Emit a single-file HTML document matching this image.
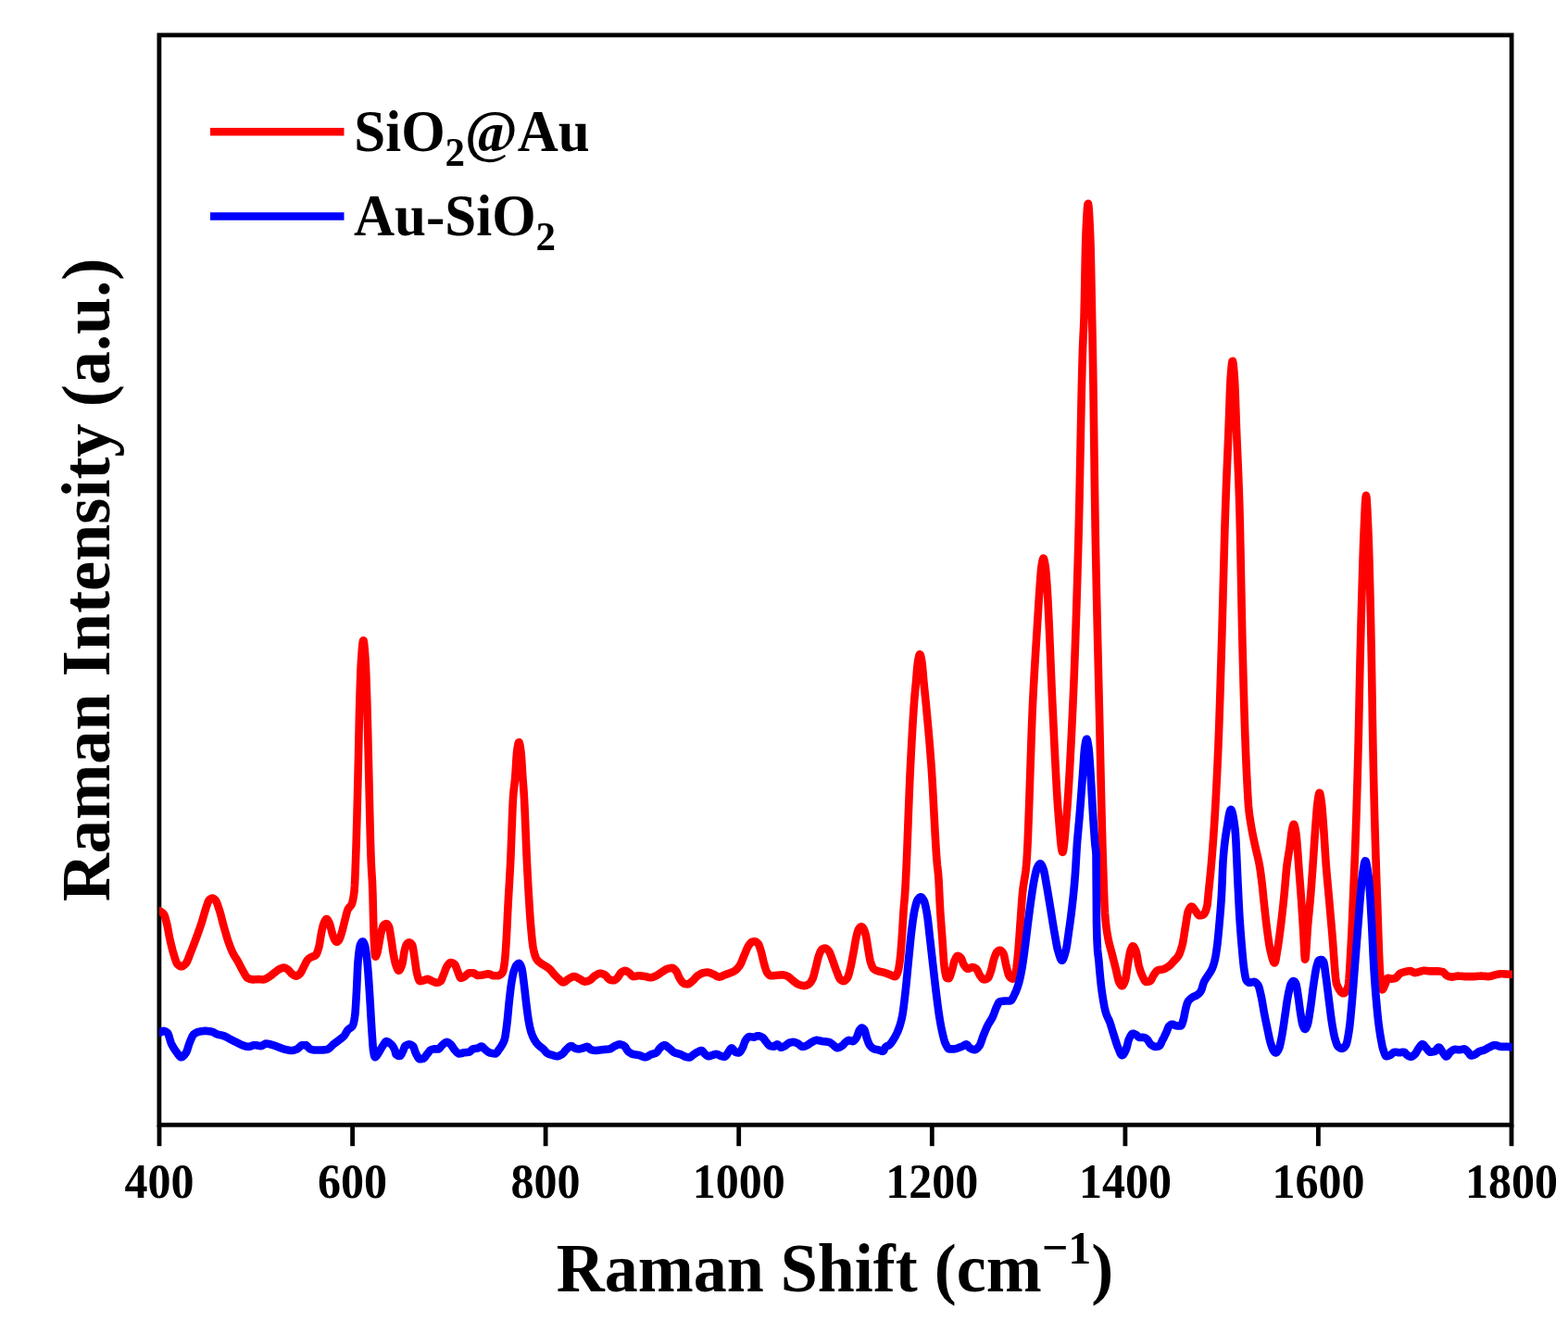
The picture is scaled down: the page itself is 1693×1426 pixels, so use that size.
<!DOCTYPE html>
<html lang="en">
<head>
<meta charset="utf-8">
<title>Raman spectra</title>
<style>
  html, body { margin: 0; padding: 0; background: #ffffff; }
  body { width: 1693px; height: 1426px; overflow: hidden; }
  svg { display: block; }
  text { font-family: "Liberation Serif", "DejaVu Serif", serif; font-weight: bold; fill: #000; }
  .tick { font-size: 50px; text-anchor: middle; }
  .axis { font-size: 72px; text-anchor: middle; }
  .yaxis { font-size: 72.3px; text-anchor: middle; }
  .leg { font-size: 61px; }
</style>
</head>
<body>
<svg width="1693" height="1426" viewBox="0 0 1693 1426">
  <defs>
    <clipPath id="plot"><rect x="172" y="38" width="1461" height="1176"/></clipPath>
  </defs>
  <rect x="0" y="0" width="1693" height="1426" fill="#ffffff"/>
  <!-- frame -->
  <rect x="171.9" y="37.9" width="1460.2" height="1176.4" fill="none" stroke="#000" stroke-width="4.8"/>
  <!-- ticks -->
  <g stroke="#000" stroke-width="4.8" fill="none">
    <line x1="172" y1="1214.3" x2="172" y2="1237.2"/>
    <line x1="380.6" y1="1214.3" x2="380.6" y2="1237.2"/>
    <line x1="589.1" y1="1214.3" x2="589.1" y2="1237.2"/>
    <line x1="797.7" y1="1214.3" x2="797.7" y2="1237.2"/>
    <line x1="1006.3" y1="1214.3" x2="1006.3" y2="1237.2"/>
    <line x1="1214.9" y1="1214.3" x2="1214.9" y2="1237.2"/>
    <line x1="1423.4" y1="1214.3" x2="1423.4" y2="1237.2"/>
    <line x1="1632" y1="1214.3" x2="1632" y2="1237.2"/>
  </g>
  <!-- curves -->
  <g clip-path="url(#plot)" fill="none" stroke-linejoin="round" stroke-linecap="butt" stroke-width="8.6">
    <path stroke="#ff0000" d="M170.0,982.6 L170.5,982.7 L171.0,982.9 L171.5,983.1 L172.0,983.3 L172.5,983.5 L173.0,983.8 L173.5,984.0 L174.0,984.3 L174.5,984.6 L175.0,985.0 L175.5,985.4 L176.0,985.8 L176.5,986.4 L177.0,987.0 L177.5,988.1 L178.0,989.4 L178.5,991.0 L179.0,992.8 L179.5,994.7 L180.0,996.6 L180.5,998.7 L181.0,1001.2 L181.5,1003.8 L182.0,1006.6 L182.5,1009.3 L183.0,1011.9 L183.5,1014.2 L184.0,1016.4 L184.5,1018.5 L185.0,1020.6 L185.5,1022.7 L186.0,1024.6 L186.5,1026.5 L187.0,1028.3 L187.5,1029.9 L188.0,1031.5 L188.5,1033.2 L189.0,1034.8 L189.5,1036.3 L190.0,1037.7 L190.5,1039.0 L191.0,1040.0 L191.5,1040.7 L192.0,1041.2 L192.5,1041.6 L193.0,1042.1 L193.5,1042.4 L194.0,1042.7 L194.5,1043.0 L195.0,1043.2 L195.5,1043.3 L196.0,1043.3 L196.5,1043.2 L197.0,1043.0 L197.5,1042.8 L198.0,1042.5 L198.5,1042.1 L199.0,1041.7 L199.5,1041.2 L200.0,1040.7 L200.5,1040.2 L201.0,1039.7 L201.5,1038.9 L202.0,1038.0 L202.5,1036.9 L203.0,1035.7 L203.5,1034.4 L204.0,1033.1 L204.5,1031.7 L205.0,1030.4 L205.5,1029.0 L206.0,1027.8 L206.5,1026.6 L207.0,1025.3 L207.5,1024.1 L208.0,1022.8 L208.5,1021.5 L209.0,1020.2 L209.5,1018.9 L210.0,1017.6 L210.5,1016.3 L211.0,1014.9 L211.5,1013.6 L212.0,1012.2 L212.5,1010.9 L213.0,1009.5 L213.5,1008.1 L214.0,1006.7 L214.5,1005.4 L215.0,1003.9 L215.5,1002.5 L216.0,1001.1 L216.5,999.6 L217.0,998.1 L217.5,996.6 L218.0,995.0 L218.5,993.4 L219.0,991.7 L219.5,989.9 L220.0,988.2 L220.5,986.4 L221.0,984.7 L221.5,983.1 L222.0,981.5 L222.5,980.0 L223.0,978.5 L223.5,977.0 L224.0,975.5 L224.5,974.1 L225.0,972.9 L225.5,972.0 L226.0,971.4 L226.5,970.9 L227.0,970.5 L227.5,970.2 L228.0,969.9 L228.5,969.7 L229.0,969.6 L229.5,969.6 L230.0,969.8 L230.5,970.0 L231.0,970.3 L231.5,970.7 L232.0,971.1 L232.5,971.6 L233.0,972.2 L233.5,973.1 L234.0,974.2 L234.5,975.4 L235.0,976.8 L235.5,978.3 L236.0,979.8 L236.5,981.3 L237.0,982.8 L237.5,984.5 L238.0,986.2 L238.5,988.1 L239.0,990.0 L239.5,992.0 L240.0,994.0 L240.5,995.9 L241.0,997.8 L241.5,999.6 L242.0,1001.4 L242.5,1003.2 L243.0,1004.9 L243.5,1006.6 L244.0,1008.4 L244.5,1010.0 L245.0,1011.7 L245.5,1013.3 L246.0,1014.8 L246.5,1016.3 L247.0,1017.7 L247.5,1019.1 L248.0,1020.5 L248.5,1021.8 L249.0,1023.1 L249.5,1024.4 L250.0,1025.6 L250.5,1026.8 L251.0,1027.9 L251.5,1028.9 L252.0,1029.9 L252.5,1030.8 L253.0,1031.6 L253.5,1032.5 L254.0,1033.2 L254.5,1034.0 L255.0,1034.8 L255.5,1035.6 L256.0,1036.4 L256.5,1037.2 L257.0,1038.1 L257.5,1039.0 L258.0,1040.0 L258.5,1041.0 L259.0,1041.9 L259.5,1042.9 L260.0,1043.9 L260.5,1044.9 L261.0,1045.8 L261.5,1046.7 L262.0,1047.6 L262.5,1048.5 L263.0,1049.3 L263.5,1050.3 L264.0,1051.2 L264.5,1052.1 L265.0,1053.0 L265.5,1053.8 L266.0,1054.5 L266.5,1055.1 L267.0,1055.6 L267.5,1055.8 L268.0,1056.1 L268.5,1056.3 L269.0,1056.5 L269.5,1056.7 L270.0,1056.8 L270.5,1057.0 L271.0,1057.1 L271.5,1057.2 L272.0,1057.3 L272.5,1057.4 L273.0,1057.4 L273.5,1057.4 L274.0,1057.4 L274.5,1057.4 L275.0,1057.3 L275.5,1057.3 L276.0,1057.2 L276.5,1057.2 L277.0,1057.2 L277.5,1057.1 L278.0,1057.1 L278.5,1057.1 L279.0,1057.1 L279.5,1057.1 L280.0,1057.2 L280.5,1057.2 L281.0,1057.2 L281.5,1057.3 L282.0,1057.3 L282.5,1057.3 L283.0,1057.4 L283.5,1057.4 L284.0,1057.4 L284.5,1057.4 L285.0,1057.3 L285.5,1057.2 L286.0,1057.0 L286.5,1056.8 L287.0,1056.5 L287.5,1056.3 L288.0,1056.0 L288.5,1055.7 L289.0,1055.4 L289.5,1055.1 L290.0,1054.8 L290.5,1054.6 L291.0,1054.2 L291.5,1053.9 L292.0,1053.5 L292.5,1053.1 L293.0,1052.8 L293.5,1052.4 L294.0,1051.9 L294.5,1051.5 L295.0,1051.1 L295.5,1050.7 L296.0,1050.3 L296.5,1050.0 L297.0,1049.6 L297.5,1049.2 L298.0,1048.8 L298.5,1048.4 L299.0,1048.0 L299.5,1047.6 L300.0,1047.2 L300.5,1046.9 L301.0,1046.5 L301.5,1046.2 L302.0,1046.0 L302.5,1045.8 L303.0,1045.6 L303.5,1045.4 L304.0,1045.2 L304.5,1045.0 L305.0,1044.8 L305.5,1044.7 L306.0,1044.6 L306.5,1044.6 L307.0,1044.6 L307.5,1044.7 L308.0,1044.9 L308.5,1045.2 L309.0,1045.5 L309.5,1045.8 L310.0,1046.1 L310.5,1046.5 L311.0,1046.8 L311.5,1047.2 L312.0,1047.7 L312.5,1048.3 L313.0,1048.9 L313.5,1049.5 L314.0,1050.0 L314.5,1050.6 L315.0,1051.1 L315.5,1051.5 L316.0,1051.8 L316.5,1052.1 L317.0,1052.5 L317.5,1052.8 L318.0,1053.0 L318.5,1053.3 L319.0,1053.5 L319.5,1053.6 L320.0,1053.6 L320.5,1053.5 L321.0,1053.3 L321.5,1053.1 L322.0,1052.7 L322.5,1052.3 L323.0,1051.9 L323.5,1051.4 L324.0,1050.9 L324.5,1050.3 L325.0,1049.6 L325.5,1048.7 L326.0,1047.8 L326.5,1046.7 L327.0,1045.7 L327.5,1044.7 L328.0,1043.7 L328.5,1042.7 L329.0,1041.8 L329.5,1040.7 L330.0,1039.7 L330.5,1038.7 L331.0,1037.8 L331.5,1037.0 L332.0,1036.3 L332.5,1035.7 L333.0,1035.2 L333.5,1034.8 L334.0,1034.4 L334.5,1034.1 L335.0,1033.8 L335.5,1033.5 L336.0,1033.2 L336.5,1033.0 L337.0,1032.7 L337.5,1032.5 L338.0,1032.4 L338.5,1032.2 L339.0,1032.1 L339.5,1031.9 L340.0,1031.7 L340.5,1031.4 L341.0,1031.0 L341.5,1030.3 L342.0,1029.4 L342.5,1028.2 L343.0,1026.8 L343.5,1025.2 L344.0,1023.6 L344.5,1021.7 L345.0,1019.2 L345.5,1016.2 L346.0,1013.0 L346.5,1009.8 L347.0,1007.0 L347.5,1004.6 L348.0,1002.4 L348.5,1000.3 L349.0,998.3 L349.5,996.8 L350.0,995.6 L350.5,994.6 L351.0,993.7 L351.5,992.9 L352.0,992.3 L352.5,992.0 L353.0,992.1 L353.5,992.5 L354.0,993.2 L354.5,994.1 L355.0,995.1 L355.5,996.2 L356.0,997.3 L356.5,998.9 L357.0,1000.8 L357.5,1002.8 L358.0,1004.9 L358.5,1006.8 L359.0,1008.5 L359.5,1009.9 L360.0,1011.3 L360.5,1012.6 L361.0,1013.8 L361.5,1014.8 L362.0,1015.5 L362.5,1016.1 L363.0,1016.6 L363.5,1016.8 L364.0,1016.7 L364.5,1016.4 L365.0,1016.0 L365.5,1015.4 L366.0,1014.8 L366.5,1013.9 L367.0,1012.7 L367.5,1011.3 L368.0,1009.8 L368.5,1008.2 L369.0,1006.6 L369.5,1004.9 L370.0,1003.0 L370.5,1001.0 L371.0,998.9 L371.5,996.9 L372.0,994.8 L372.5,992.9 L373.0,991.0 L373.5,988.9 L374.0,986.9 L374.5,985.1 L375.0,983.4 L375.5,982.0 L376.0,981.0 L376.5,980.3 L377.0,979.7 L377.5,979.1 L378.0,978.6 L378.5,978.1 L379.0,977.4 L379.5,976.6 L380.0,975.6 L380.5,973.9 L381.0,971.7 L381.5,969.0 L382.0,966.0 L382.5,962.1 L383.0,955.3 L383.5,943.8 L384.0,930.0 L384.5,915.0 L385.0,898.0 L385.5,879.4 L386.0,859.5 L386.5,838.7 L387.0,817.4 L387.5,792.5 L388.0,768.4 L388.5,751.1 L389.0,735.8 L389.5,722.9 L390.0,713.0 L390.5,706.0 L391.0,699.7 L391.5,694.6 L392.0,691.6 L392.5,691.3 L393.0,693.8 L393.5,698.6 L394.0,704.7 L394.5,711.4 L395.0,721.0 L395.5,733.7 L396.0,748.6 L396.5,764.6 L397.0,783.4 L397.5,804.9 L398.0,825.5 L398.5,846.8 L399.0,868.6 L399.5,889.6 L400.0,908.7 L400.5,924.7 L401.0,936.4 L401.5,944.6 L402.0,953.1 L402.5,966.8 L403.0,989.1 L403.5,1005.6 L404.0,1018.0 L404.5,1026.3 L405.0,1032.1 L405.5,1032.7 L406.0,1032.0 L406.5,1030.9 L407.0,1029.6 L407.5,1027.8 L408.0,1025.3 L408.5,1022.6 L409.0,1019.9 L409.5,1017.2 L410.0,1014.3 L410.5,1011.5 L411.0,1008.8 L411.5,1006.6 L412.0,1004.7 L412.5,1002.8 L413.0,1001.2 L413.5,999.9 L414.0,999.1 L414.5,998.6 L415.0,998.1 L415.5,997.7 L416.0,997.4 L416.5,997.2 L417.0,997.1 L417.5,997.2 L418.0,997.5 L418.5,998.0 L419.0,998.7 L419.5,999.5 L420.0,1000.5 L420.5,1002.3 L421.0,1005.0 L421.5,1008.2 L422.0,1011.5 L422.5,1014.5 L423.0,1017.9 L423.5,1021.5 L424.0,1025.0 L424.5,1028.3 L425.0,1031.1 L425.5,1033.7 L426.0,1036.2 L426.5,1038.5 L427.0,1040.4 L427.5,1042.0 L428.0,1043.3 L428.5,1044.6 L429.0,1045.8 L429.5,1046.7 L430.0,1047.4 L430.5,1047.7 L431.0,1047.6 L431.5,1047.1 L432.0,1046.4 L432.5,1045.4 L433.0,1044.3 L433.5,1043.0 L434.0,1041.6 L434.5,1039.9 L435.0,1037.1 L435.5,1033.8 L436.0,1030.4 L436.5,1027.5 L437.0,1025.4 L437.5,1023.5 L438.0,1021.8 L438.5,1020.4 L439.0,1019.4 L439.5,1018.8 L440.0,1018.3 L440.5,1017.9 L441.0,1017.6 L441.5,1017.4 L442.0,1017.4 L442.5,1017.6 L443.0,1017.8 L443.5,1018.2 L444.0,1018.7 L444.5,1019.3 L445.0,1019.9 L445.5,1021.3 L446.0,1023.7 L446.5,1026.8 L447.0,1030.1 L447.5,1033.3 L448.0,1036.6 L448.5,1040.3 L449.0,1044.0 L449.5,1047.4 L450.0,1049.9 L450.5,1051.9 L451.0,1053.9 L451.5,1055.7 L452.0,1057.2 L452.5,1058.3 L453.0,1059.0 L453.5,1059.1 L454.0,1059.1 L454.5,1059.0 L455.0,1058.9 L455.5,1058.8 L456.0,1058.7 L456.5,1058.6 L457.0,1058.4 L457.5,1058.3 L458.0,1058.1 L458.5,1058.0 L459.0,1057.7 L459.5,1057.5 L460.0,1057.3 L460.5,1057.1 L461.0,1057.0 L461.5,1056.9 L462.0,1056.9 L462.5,1057.0 L463.0,1057.2 L463.5,1057.4 L464.0,1057.7 L464.5,1058.0 L465.0,1058.3 L465.5,1058.6 L466.0,1058.8 L466.5,1059.1 L467.0,1059.3 L467.5,1059.5 L468.0,1059.7 L468.5,1059.9 L469.0,1060.1 L469.5,1060.3 L470.0,1060.5 L470.5,1060.7 L471.0,1060.8 L471.5,1060.8 L472.0,1060.8 L472.5,1060.7 L473.0,1060.6 L473.5,1060.4 L474.0,1060.2 L474.5,1059.9 L475.0,1059.6 L475.5,1059.3 L476.0,1058.9 L476.5,1058.2 L477.0,1057.2 L477.5,1055.9 L478.0,1054.5 L478.5,1053.1 L479.0,1051.8 L479.5,1050.6 L480.0,1049.3 L480.5,1047.9 L481.0,1046.5 L481.5,1045.3 L482.0,1044.2 L482.5,1043.3 L483.0,1042.6 L483.5,1041.8 L484.0,1041.1 L484.5,1040.5 L485.0,1040.0 L485.5,1039.5 L486.0,1039.2 L486.5,1039.1 L487.0,1039.1 L487.5,1039.2 L488.0,1039.3 L488.5,1039.5 L489.0,1039.7 L489.5,1040.0 L490.0,1040.3 L490.5,1040.6 L491.0,1041.0 L491.5,1041.7 L492.0,1042.8 L492.5,1044.1 L493.0,1045.4 L493.5,1046.8 L494.0,1048.1 L494.5,1049.3 L495.0,1050.7 L495.5,1052.2 L496.0,1053.5 L496.5,1054.7 L497.0,1055.5 L497.5,1055.8 L498.0,1055.8 L498.5,1055.6 L499.0,1055.5 L499.5,1055.2 L500.0,1055.0 L500.5,1054.7 L501.0,1054.4 L501.5,1054.2 L502.0,1053.9 L502.5,1053.5 L503.0,1053.0 L503.5,1052.5 L504.0,1052.0 L504.5,1051.6 L505.0,1051.1 L505.5,1050.8 L506.0,1050.5 L506.5,1050.4 L507.0,1050.4 L507.5,1050.4 L508.0,1050.3 L508.5,1050.3 L509.0,1050.3 L509.5,1050.3 L510.0,1050.3 L510.5,1050.3 L511.0,1050.3 L511.5,1050.4 L512.0,1050.7 L512.5,1051.0 L513.0,1051.4 L513.5,1051.8 L514.0,1052.1 L514.5,1052.5 L515.0,1052.7 L515.5,1052.9 L516.0,1052.9 L516.5,1052.9 L517.0,1052.9 L517.5,1052.8 L518.0,1052.8 L518.5,1052.8 L519.0,1052.7 L519.5,1052.7 L520.0,1052.6 L520.5,1052.5 L521.0,1052.5 L521.5,1052.4 L522.0,1052.3 L522.5,1052.3 L523.0,1052.1 L523.5,1052.0 L524.0,1051.9 L524.5,1051.8 L525.0,1051.6 L525.5,1051.5 L526.0,1051.4 L526.5,1051.4 L527.0,1051.3 L527.5,1051.3 L528.0,1051.4 L528.5,1051.5 L529.0,1051.7 L529.5,1051.9 L530.0,1052.1 L530.5,1052.4 L531.0,1052.6 L531.5,1052.9 L532.0,1053.1 L532.5,1053.2 L533.0,1053.3 L533.5,1053.3 L534.0,1053.3 L534.5,1053.3 L535.0,1053.3 L535.5,1053.3 L536.0,1053.3 L536.5,1053.3 L537.0,1053.3 L537.5,1053.3 L538.0,1053.2 L538.5,1053.1 L539.0,1052.9 L539.5,1052.6 L540.0,1052.3 L540.5,1052.0 L541.0,1051.6 L541.5,1051.2 L542.0,1050.6 L542.5,1049.8 L543.0,1048.9 L543.5,1047.2 L544.0,1044.6 L544.5,1041.3 L545.0,1037.5 L545.5,1032.3 L546.0,1025.7 L546.5,1018.1 L547.0,1009.8 L547.5,999.5 L548.0,988.3 L548.5,978.1 L549.0,969.0 L549.5,960.4 L550.0,952.0 L550.5,943.3 L551.0,934.0 L551.5,923.4 L552.0,910.7 L552.5,897.0 L553.0,883.4 L553.5,871.1 L554.0,861.4 L554.5,855.0 L555.0,850.5 L555.5,846.5 L556.0,842.0 L556.5,835.6 L557.0,827.4 L557.5,819.2 L558.0,812.7 L558.5,808.9 L559.0,805.6 L559.5,803.0 L560.0,801.4 L560.5,801.2 L561.0,802.6 L561.5,805.0 L562.0,808.2 L562.5,811.8 L563.0,817.4 L563.5,825.0 L564.0,833.2 L564.5,840.9 L565.0,847.4 L565.5,853.9 L566.0,862.0 L566.5,872.2 L567.0,884.0 L567.5,896.6 L568.0,909.3 L568.5,921.3 L569.0,932.0 L569.5,941.8 L570.0,951.1 L570.5,959.9 L571.0,968.3 L571.5,976.5 L572.0,984.4 L572.5,991.5 L573.0,997.8 L573.5,1003.6 L574.0,1009.2 L574.5,1014.3 L575.0,1018.7 L575.5,1022.2 L576.0,1024.8 L576.5,1027.1 L577.0,1029.1 L577.5,1030.9 L578.0,1032.5 L578.5,1033.7 L579.0,1034.7 L579.5,1035.5 L580.0,1036.2 L580.5,1036.8 L581.0,1037.4 L581.5,1037.8 L582.0,1038.3 L582.5,1038.7 L583.0,1039.1 L583.5,1039.5 L584.0,1039.8 L584.5,1040.2 L585.0,1040.5 L585.5,1040.8 L586.0,1041.1 L586.5,1041.4 L587.0,1041.7 L587.5,1042.0 L588.0,1042.3 L588.5,1042.6 L589.0,1042.9 L589.5,1043.2 L590.0,1043.5 L590.5,1043.8 L591.0,1044.2 L591.5,1044.5 L592.0,1044.9 L592.5,1045.2 L593.0,1045.6 L593.5,1046.1 L594.0,1046.6 L594.5,1047.1 L595.0,1047.7 L595.5,1048.3 L596.0,1048.9 L596.5,1049.6 L597.0,1050.2 L597.5,1050.8 L598.0,1051.4 L598.5,1051.9 L599.0,1052.5 L599.5,1053.0 L600.0,1053.5 L600.5,1054.0 L601.0,1054.5 L601.5,1055.0 L602.0,1055.5 L602.5,1056.0 L603.0,1056.4 L603.5,1056.9 L604.0,1057.3 L604.5,1057.9 L605.0,1058.4 L605.5,1058.9 L606.0,1059.3 L606.5,1059.7 L607.0,1060.0 L607.5,1060.3 L608.0,1060.4 L608.5,1060.4 L609.0,1060.3 L609.5,1060.0 L610.0,1059.8 L610.5,1059.4 L611.0,1059.0 L611.5,1058.6 L612.0,1058.2 L612.5,1057.7 L613.0,1057.3 L613.5,1057.0 L614.0,1056.7 L614.5,1056.4 L615.0,1056.1 L615.5,1055.8 L616.0,1055.5 L616.5,1055.2 L617.0,1055.0 L617.5,1054.7 L618.0,1054.5 L618.5,1054.3 L619.0,1054.2 L619.5,1054.1 L620.0,1054.1 L620.5,1054.1 L621.0,1054.3 L621.5,1054.4 L622.0,1054.6 L622.5,1054.9 L623.0,1055.1 L623.5,1055.4 L624.0,1055.7 L624.5,1056.0 L625.0,1056.2 L625.5,1056.5 L626.0,1056.8 L626.5,1057.0 L627.0,1057.4 L627.5,1057.7 L628.0,1058.0 L628.5,1058.4 L629.0,1058.7 L629.5,1059.0 L630.0,1059.2 L630.5,1059.4 L631.0,1059.6 L631.5,1059.6 L632.0,1059.6 L632.5,1059.5 L633.0,1059.4 L633.5,1059.3 L634.0,1059.2 L634.5,1059.0 L635.0,1058.9 L635.5,1058.7 L636.0,1058.5 L636.5,1058.3 L637.0,1058.1 L637.5,1057.7 L638.0,1057.3 L638.5,1056.9 L639.0,1056.4 L639.5,1055.9 L640.0,1055.4 L640.5,1054.9 L641.0,1054.4 L641.5,1053.9 L642.0,1053.6 L642.5,1053.2 L643.0,1052.9 L643.5,1052.7 L644.0,1052.4 L644.5,1052.1 L645.0,1051.8 L645.5,1051.5 L646.0,1051.3 L646.5,1051.1 L647.0,1051.0 L647.5,1050.9 L648.0,1050.8 L648.5,1050.8 L649.0,1050.9 L649.5,1050.9 L650.0,1051.1 L650.5,1051.2 L651.0,1051.4 L651.5,1051.6 L652.0,1051.8 L652.5,1052.1 L653.0,1052.3 L653.5,1052.6 L654.0,1053.0 L654.5,1053.5 L655.0,1054.1 L655.5,1054.7 L656.0,1055.4 L656.5,1056.0 L657.0,1056.5 L657.5,1057.0 L658.0,1057.3 L658.5,1057.5 L659.0,1057.7 L659.5,1057.8 L660.0,1058.0 L660.5,1058.1 L661.0,1058.2 L661.5,1058.2 L662.0,1058.3 L662.5,1058.3 L663.0,1058.2 L663.5,1058.0 L664.0,1057.8 L664.5,1057.4 L665.0,1057.1 L665.5,1056.7 L666.0,1056.2 L666.5,1055.8 L667.0,1055.3 L667.5,1054.6 L668.0,1053.8 L668.5,1052.9 L669.0,1052.1 L669.5,1051.3 L670.0,1050.6 L670.5,1050.1 L671.0,1049.7 L671.5,1049.3 L672.0,1049.0 L672.5,1048.7 L673.0,1048.4 L673.5,1048.2 L674.0,1048.0 L674.5,1047.9 L675.0,1047.9 L675.5,1048.0 L676.0,1048.1 L676.5,1048.3 L677.0,1048.6 L677.5,1048.9 L678.0,1049.3 L678.5,1049.6 L679.0,1049.9 L679.5,1050.3 L680.0,1050.7 L680.5,1051.3 L681.0,1051.8 L681.5,1052.4 L682.0,1052.9 L682.5,1053.4 L683.0,1053.8 L683.5,1054.0 L684.0,1054.1 L684.5,1054.1 L685.0,1054.0 L685.5,1054.0 L686.0,1053.9 L686.5,1053.8 L687.0,1053.7 L687.5,1053.6 L688.0,1053.5 L688.5,1053.4 L689.0,1053.3 L689.5,1053.3 L690.0,1053.3 L690.5,1053.3 L691.0,1053.3 L691.5,1053.4 L692.0,1053.4 L692.5,1053.5 L693.0,1053.5 L693.5,1053.6 L694.0,1053.7 L694.5,1053.8 L695.0,1053.8 L695.5,1053.9 L696.0,1054.0 L696.5,1054.1 L697.0,1054.1 L697.5,1054.3 L698.0,1054.4 L698.5,1054.5 L699.0,1054.6 L699.5,1054.8 L700.0,1054.9 L700.5,1055.0 L701.0,1055.1 L701.5,1055.2 L702.0,1055.3 L702.5,1055.3 L703.0,1055.3 L703.5,1055.2 L704.0,1055.1 L704.5,1055.0 L705.0,1054.8 L705.5,1054.6 L706.0,1054.4 L706.5,1054.1 L707.0,1053.9 L707.5,1053.7 L708.0,1053.4 L708.5,1053.2 L709.0,1053.0 L709.5,1052.7 L710.0,1052.4 L710.5,1052.1 L711.0,1051.8 L711.5,1051.4 L712.0,1051.1 L712.5,1050.7 L713.0,1050.4 L713.5,1050.1 L714.0,1049.7 L714.5,1049.4 L715.0,1049.1 L715.5,1048.8 L716.0,1048.5 L716.5,1048.1 L717.0,1047.8 L717.5,1047.5 L718.0,1047.2 L718.5,1046.8 L719.0,1046.6 L719.5,1046.3 L720.0,1046.1 L720.5,1045.9 L721.0,1045.7 L721.5,1045.6 L722.0,1045.5 L722.5,1045.4 L723.0,1045.2 L723.5,1045.1 L724.0,1045.1 L724.5,1045.0 L725.0,1044.9 L725.5,1044.9 L726.0,1044.9 L726.5,1045.0 L727.0,1045.3 L727.5,1045.6 L728.0,1046.1 L728.5,1046.6 L729.0,1047.1 L729.5,1047.7 L730.0,1048.3 L730.5,1049.0 L731.0,1049.9 L731.5,1051.0 L732.0,1052.2 L732.5,1053.3 L733.0,1054.5 L733.5,1055.5 L734.0,1056.4 L734.5,1057.2 L735.0,1058.0 L735.5,1058.7 L736.0,1059.4 L736.5,1060.1 L737.0,1060.7 L737.5,1061.1 L738.0,1061.5 L738.5,1061.7 L739.0,1061.8 L739.5,1062.0 L740.0,1062.1 L740.5,1062.2 L741.0,1062.3 L741.5,1062.3 L742.0,1062.4 L742.5,1062.4 L743.0,1062.3 L743.5,1062.2 L744.0,1061.9 L744.5,1061.6 L745.0,1061.2 L745.5,1060.8 L746.0,1060.4 L746.5,1059.9 L747.0,1059.5 L747.5,1059.1 L748.0,1058.7 L748.5,1058.2 L749.0,1057.7 L749.5,1057.1 L750.0,1056.6 L750.5,1056.0 L751.0,1055.4 L751.5,1054.9 L752.0,1054.4 L752.5,1053.9 L753.0,1053.5 L753.5,1053.2 L754.0,1052.8 L754.5,1052.5 L755.0,1052.2 L755.5,1051.9 L756.0,1051.6 L756.5,1051.3 L757.0,1051.1 L757.5,1050.8 L758.0,1050.6 L758.5,1050.5 L759.0,1050.3 L759.5,1050.2 L760.0,1050.1 L760.5,1050.0 L761.0,1049.9 L761.5,1049.8 L762.0,1049.8 L762.5,1049.7 L763.0,1049.6 L763.5,1049.6 L764.0,1049.6 L764.5,1049.6 L765.0,1049.7 L765.5,1049.8 L766.0,1049.9 L766.5,1050.1 L767.0,1050.3 L767.5,1050.5 L768.0,1050.7 L768.5,1051.0 L769.0,1051.2 L769.5,1051.4 L770.0,1051.6 L770.5,1051.8 L771.0,1052.1 L771.5,1052.3 L772.0,1052.6 L772.5,1052.9 L773.0,1053.2 L773.5,1053.5 L774.0,1053.8 L774.5,1054.1 L775.0,1054.3 L775.5,1054.4 L776.0,1054.5 L776.5,1054.6 L777.0,1054.6 L777.5,1054.5 L778.0,1054.4 L778.5,1054.2 L779.0,1054.0 L779.5,1053.8 L780.0,1053.5 L780.5,1053.3 L781.0,1053.0 L781.5,1052.8 L782.0,1052.6 L782.5,1052.4 L783.0,1052.2 L783.5,1052.0 L784.0,1051.8 L784.5,1051.7 L785.0,1051.5 L785.5,1051.3 L786.0,1051.2 L786.5,1051.0 L787.0,1050.8 L787.5,1050.6 L788.0,1050.4 L788.5,1050.2 L789.0,1050.0 L789.5,1049.8 L790.0,1049.6 L790.5,1049.4 L791.0,1049.2 L791.5,1048.9 L792.0,1048.7 L792.5,1048.4 L793.0,1048.1 L793.5,1047.8 L794.0,1047.5 L794.5,1047.1 L795.0,1046.7 L795.5,1046.2 L796.0,1045.7 L796.5,1045.1 L797.0,1044.5 L797.5,1043.9 L798.0,1043.2 L798.5,1042.5 L799.0,1041.8 L799.5,1040.9 L800.0,1040.0 L800.5,1038.9 L801.0,1037.7 L801.5,1036.4 L802.0,1035.2 L802.5,1033.9 L803.0,1032.6 L803.5,1031.3 L804.0,1030.1 L804.5,1029.0 L805.0,1027.8 L805.5,1026.6 L806.0,1025.4 L806.5,1024.2 L807.0,1023.1 L807.5,1022.1 L808.0,1021.2 L808.5,1020.5 L809.0,1019.8 L809.5,1019.1 L810.0,1018.5 L810.5,1017.9 L811.0,1017.4 L811.5,1017.0 L812.0,1016.7 L812.5,1016.6 L813.0,1016.5 L813.5,1016.4 L814.0,1016.3 L814.5,1016.3 L815.0,1016.3 L815.5,1016.4 L816.0,1016.6 L816.5,1016.8 L817.0,1017.2 L817.5,1017.6 L818.0,1018.0 L818.5,1018.5 L819.0,1019.3 L819.5,1020.4 L820.0,1021.7 L820.5,1023.2 L821.0,1024.7 L821.5,1026.3 L822.0,1028.0 L822.5,1029.9 L823.0,1032.0 L823.5,1034.2 L824.0,1036.4 L824.5,1038.4 L825.0,1040.2 L825.5,1042.0 L826.0,1043.8 L826.5,1045.5 L827.0,1047.0 L827.5,1048.4 L828.0,1049.4 L828.5,1050.2 L829.0,1050.8 L829.5,1051.4 L830.0,1051.9 L830.5,1052.4 L831.0,1052.8 L831.5,1053.1 L832.0,1053.3 L832.5,1053.3 L833.0,1053.3 L833.5,1053.3 L834.0,1053.2 L834.5,1053.2 L835.0,1053.2 L835.5,1053.1 L836.0,1053.1 L836.5,1053.0 L837.0,1053.0 L837.5,1053.0 L838.0,1052.9 L838.5,1052.9 L839.0,1052.8 L839.5,1052.8 L840.0,1052.7 L840.5,1052.7 L841.0,1052.6 L841.5,1052.6 L842.0,1052.5 L842.5,1052.5 L843.0,1052.5 L843.5,1052.4 L844.0,1052.4 L844.5,1052.4 L845.0,1052.4 L845.5,1052.4 L846.0,1052.5 L846.5,1052.6 L847.0,1052.7 L847.5,1052.8 L848.0,1052.9 L848.5,1053.1 L849.0,1053.3 L849.5,1053.5 L850.0,1053.6 L850.5,1053.9 L851.0,1054.2 L851.5,1054.5 L852.0,1054.9 L852.5,1055.3 L853.0,1055.8 L853.5,1056.2 L854.0,1056.7 L854.5,1057.1 L855.0,1057.5 L855.5,1057.9 L856.0,1058.3 L856.5,1058.7 L857.0,1059.1 L857.5,1059.6 L858.0,1060.0 L858.5,1060.4 L859.0,1060.8 L859.5,1061.2 L860.0,1061.5 L860.5,1061.9 L861.0,1062.1 L861.5,1062.4 L862.0,1062.6 L862.5,1062.7 L863.0,1062.9 L863.5,1063.1 L864.0,1063.3 L864.5,1063.4 L865.0,1063.6 L865.5,1063.7 L866.0,1063.8 L866.5,1063.9 L867.0,1064.0 L867.5,1064.1 L868.0,1064.1 L868.5,1064.1 L869.0,1064.0 L869.5,1064.0 L870.0,1063.8 L870.5,1063.7 L871.0,1063.5 L871.5,1063.3 L872.0,1063.0 L872.5,1062.8 L873.0,1062.5 L873.5,1062.2 L874.0,1061.8 L874.5,1061.3 L875.0,1060.7 L875.5,1060.0 L876.0,1059.2 L876.5,1058.3 L877.0,1057.4 L877.5,1056.4 L878.0,1055.1 L878.5,1053.5 L879.0,1051.6 L879.5,1049.7 L880.0,1047.6 L880.5,1045.7 L881.0,1043.7 L881.5,1041.7 L882.0,1039.5 L882.5,1037.4 L883.0,1035.3 L883.5,1033.5 L884.0,1031.9 L884.5,1030.5 L885.0,1029.2 L885.5,1028.0 L886.0,1026.9 L886.5,1026.0 L887.0,1025.3 L887.5,1024.8 L888.0,1024.5 L888.5,1024.2 L889.0,1024.0 L889.5,1023.8 L890.0,1023.7 L890.5,1023.6 L891.0,1023.6 L891.5,1023.7 L892.0,1024.0 L892.5,1024.3 L893.0,1024.7 L893.5,1025.1 L894.0,1025.6 L894.5,1026.2 L895.0,1026.7 L895.5,1027.5 L896.0,1028.5 L896.5,1029.6 L897.0,1031.0 L897.5,1032.4 L898.0,1033.8 L898.5,1035.2 L899.0,1036.6 L899.5,1037.9 L900.0,1039.3 L900.5,1040.8 L901.0,1042.2 L901.5,1043.7 L902.0,1045.1 L902.5,1046.5 L903.0,1047.8 L903.5,1049.0 L904.0,1050.3 L904.5,1051.7 L905.0,1053.0 L905.5,1054.2 L906.0,1055.3 L906.5,1056.2 L907.0,1057.0 L907.5,1057.5 L908.0,1057.9 L908.5,1058.2 L909.0,1058.6 L909.5,1058.8 L910.0,1059.0 L910.5,1059.1 L911.0,1059.1 L911.5,1058.9 L912.0,1058.7 L912.5,1058.4 L913.0,1058.0 L913.5,1057.5 L914.0,1056.9 L914.5,1056.3 L915.0,1055.7 L915.5,1054.7 L916.0,1053.3 L916.5,1051.6 L917.0,1049.8 L917.5,1047.7 L918.0,1045.7 L918.5,1043.7 L919.0,1041.4 L919.5,1038.9 L920.0,1036.3 L920.5,1033.6 L921.0,1030.9 L921.5,1028.3 L922.0,1025.6 L922.5,1022.7 L923.0,1019.7 L923.5,1016.8 L924.0,1014.1 L924.5,1011.7 L925.0,1009.6 L925.5,1007.7 L926.0,1006.0 L926.5,1004.4 L927.0,1003.2 L927.5,1002.4 L928.0,1001.7 L928.5,1001.1 L929.0,1000.7 L929.5,1000.4 L930.0,1000.3 L930.5,1000.5 L931.0,1000.8 L931.5,1001.3 L932.0,1002.0 L932.5,1002.6 L933.0,1003.6 L933.5,1005.0 L934.0,1006.6 L934.5,1008.4 L935.0,1010.4 L935.5,1012.9 L936.0,1016.0 L936.5,1019.2 L937.0,1022.5 L937.5,1025.5 L938.0,1028.4 L938.5,1031.5 L939.0,1034.3 L939.5,1036.8 L940.0,1038.6 L940.5,1040.2 L941.0,1041.6 L941.5,1042.9 L942.0,1044.0 L942.5,1044.9 L943.0,1045.6 L943.5,1046.0 L944.0,1046.4 L944.5,1046.7 L945.0,1047.0 L945.5,1047.3 L946.0,1047.5 L946.5,1047.7 L947.0,1047.9 L947.5,1048.1 L948.0,1048.2 L948.5,1048.4 L949.0,1048.5 L949.5,1048.7 L950.0,1048.8 L950.5,1048.9 L951.0,1049.0 L951.5,1049.1 L952.0,1049.2 L952.5,1049.3 L953.0,1049.4 L953.5,1049.6 L954.0,1049.7 L954.5,1049.8 L955.0,1050.0 L955.5,1050.1 L956.0,1050.3 L956.5,1050.5 L957.0,1050.7 L957.5,1050.8 L958.0,1051.0 L958.5,1051.2 L959.0,1051.4 L959.5,1051.6 L960.0,1051.8 L960.5,1052.0 L961.0,1052.2 L961.5,1052.4 L962.0,1052.6 L962.5,1052.8 L963.0,1053.0 L963.5,1053.3 L964.0,1053.5 L964.5,1053.7 L965.0,1053.8 L965.5,1054.0 L966.0,1054.1 L966.5,1054.1 L967.0,1053.9 L967.5,1053.4 L968.0,1052.5 L968.5,1051.5 L969.0,1050.4 L969.5,1049.0 L970.0,1047.1 L970.5,1044.5 L971.0,1041.5 L971.5,1038.1 L972.0,1034.1 L972.5,1028.8 L973.0,1022.7 L973.5,1016.0 L974.0,1009.0 L974.5,1000.9 L975.0,992.3 L975.5,984.3 L976.0,977.5 L976.5,972.1 L977.0,966.3 L977.5,958.6 L978.0,949.2 L978.5,938.5 L979.0,926.8 L979.5,914.3 L980.0,901.2 L980.5,888.0 L981.0,874.7 L981.5,861.8 L982.0,849.4 L982.5,837.8 L983.0,827.4 L983.5,817.7 L984.0,808.1 L984.5,798.9 L985.0,789.9 L985.5,781.4 L986.0,773.3 L986.5,765.7 L987.0,758.7 L987.5,752.4 L988.0,746.8 L988.5,741.4 L989.0,736.1 L989.5,730.3 L990.0,724.2 L990.5,718.7 L991.0,714.6 L991.5,711.8 L992.0,709.3 L992.5,707.4 L993.0,706.3 L993.5,706.4 L994.0,707.7 L994.5,709.8 L995.0,712.4 L995.5,715.3 L996.0,719.9 L996.5,725.6 L997.0,731.7 L997.5,737.1 L998.0,742.0 L998.5,746.8 L999.0,751.6 L999.5,756.6 L1000.0,761.9 L1000.5,767.1 L1001.0,772.5 L1001.5,777.8 L1002.0,783.3 L1002.5,788.9 L1003.0,794.6 L1003.5,800.5 L1004.0,806.5 L1004.5,812.8 L1005.0,819.3 L1005.5,826.0 L1006.0,833.2 L1006.5,841.3 L1007.0,850.0 L1007.5,859.1 L1008.0,868.6 L1008.5,878.3 L1009.0,887.8 L1009.5,897.2 L1010.0,906.1 L1010.5,914.5 L1011.0,922.1 L1011.5,928.8 L1012.0,934.2 L1012.5,938.5 L1013.0,943.2 L1013.5,949.7 L1014.0,959.4 L1014.5,970.3 L1015.0,980.0 L1015.5,987.7 L1016.0,994.8 L1016.5,1001.4 L1017.0,1007.9 L1017.5,1014.7 L1018.0,1022.3 L1018.5,1030.1 L1019.0,1037.2 L1019.5,1042.5 L1020.0,1046.1 L1020.5,1049.3 L1021.0,1052.1 L1021.5,1054.2 L1022.0,1055.5 L1022.5,1055.9 L1023.0,1056.0 L1023.5,1056.1 L1024.0,1056.2 L1024.5,1056.2 L1025.0,1055.7 L1025.5,1054.7 L1026.0,1053.4 L1026.5,1051.8 L1027.0,1050.2 L1027.5,1048.6 L1028.0,1046.9 L1028.5,1045.0 L1029.0,1042.9 L1029.5,1040.8 L1030.0,1038.9 L1030.5,1037.3 L1031.0,1036.2 L1031.5,1035.2 L1032.0,1034.2 L1032.5,1033.3 L1033.0,1032.6 L1033.5,1032.1 L1034.0,1031.9 L1034.5,1031.9 L1035.0,1032.1 L1035.5,1032.4 L1036.0,1032.7 L1036.5,1033.1 L1037.0,1033.6 L1037.5,1034.1 L1038.0,1034.8 L1038.5,1035.9 L1039.0,1037.3 L1039.5,1038.7 L1040.0,1040.0 L1040.5,1041.1 L1041.0,1041.9 L1041.5,1042.6 L1042.0,1043.3 L1042.5,1044.0 L1043.0,1044.6 L1043.5,1045.1 L1044.0,1045.5 L1044.5,1045.7 L1045.0,1045.8 L1045.5,1045.8 L1046.0,1045.6 L1046.5,1045.4 L1047.0,1045.2 L1047.5,1044.9 L1048.0,1044.7 L1048.5,1044.4 L1049.0,1044.3 L1049.5,1044.1 L1050.0,1044.1 L1050.5,1044.1 L1051.0,1044.2 L1051.5,1044.4 L1052.0,1044.6 L1052.5,1044.8 L1053.0,1045.1 L1053.5,1045.4 L1054.0,1045.7 L1054.5,1046.2 L1055.0,1046.9 L1055.5,1047.8 L1056.0,1048.8 L1056.5,1049.9 L1057.0,1051.0 L1057.5,1052.0 L1058.0,1052.9 L1058.5,1053.6 L1059.0,1054.2 L1059.5,1054.9 L1060.0,1055.6 L1060.5,1056.2 L1061.0,1056.7 L1061.5,1057.1 L1062.0,1057.3 L1062.5,1057.4 L1063.0,1057.4 L1063.5,1057.3 L1064.0,1057.1 L1064.5,1057.0 L1065.0,1056.7 L1065.5,1056.5 L1066.0,1056.2 L1066.5,1055.9 L1067.0,1055.4 L1067.5,1054.6 L1068.0,1053.6 L1068.5,1052.3 L1069.0,1050.9 L1069.5,1049.5 L1070.0,1048.0 L1070.5,1046.3 L1071.0,1044.2 L1071.5,1042.0 L1072.0,1039.8 L1072.5,1037.7 L1073.0,1035.8 L1073.5,1034.3 L1074.0,1032.9 L1074.5,1031.5 L1075.0,1030.2 L1075.5,1029.1 L1076.0,1028.1 L1076.5,1027.5 L1077.0,1027.1 L1077.5,1026.7 L1078.0,1026.3 L1078.5,1026.1 L1079.0,1025.9 L1079.5,1025.8 L1080.0,1025.8 L1080.5,1026.0 L1081.0,1026.4 L1081.5,1026.8 L1082.0,1027.3 L1082.5,1028.0 L1083.0,1028.7 L1083.5,1029.5 L1084.0,1031.0 L1084.5,1033.1 L1085.0,1035.5 L1085.5,1038.2 L1086.0,1040.7 L1086.5,1042.9 L1087.0,1044.8 L1087.5,1046.8 L1088.0,1048.8 L1088.5,1050.6 L1089.0,1052.2 L1089.5,1053.4 L1090.0,1054.2 L1090.5,1054.8 L1091.0,1055.3 L1091.5,1055.8 L1092.0,1056.2 L1092.5,1056.4 L1093.0,1056.6 L1093.5,1056.6 L1094.0,1056.2 L1094.5,1055.5 L1095.0,1054.5 L1095.5,1053.3 L1096.0,1051.8 L1096.5,1050.2 L1097.0,1048.1 L1097.5,1044.8 L1098.0,1040.7 L1098.5,1035.9 L1099.0,1030.9 L1099.5,1025.5 L1100.0,1019.1 L1100.5,1012.2 L1101.0,1005.0 L1101.5,997.9 L1102.0,991.1 L1102.5,983.9 L1103.0,976.7 L1103.5,970.0 L1104.0,964.3 L1104.5,959.7 L1105.0,956.0 L1105.5,952.8 L1106.0,949.8 L1106.5,946.9 L1107.0,943.7 L1107.5,940.0 L1108.0,935.5 L1108.5,929.7 L1109.0,921.9 L1109.5,912.0 L1110.0,900.5 L1110.5,887.7 L1111.0,873.8 L1111.5,859.2 L1112.0,844.1 L1112.5,828.9 L1113.0,813.8 L1113.5,799.1 L1114.0,785.2 L1114.5,772.4 L1115.0,760.9 L1115.5,750.8 L1116.0,741.3 L1116.5,732.2 L1117.0,723.4 L1117.5,715.0 L1118.0,706.8 L1118.5,698.8 L1119.0,690.8 L1119.5,682.8 L1120.0,674.8 L1120.5,666.7 L1121.0,658.5 L1121.5,650.4 L1122.0,642.7 L1122.5,635.6 L1123.0,628.5 L1123.5,621.6 L1124.0,615.7 L1124.5,611.5 L1125.0,608.4 L1125.5,605.6 L1126.0,603.6 L1126.5,602.6 L1127.0,603.1 L1127.5,604.7 L1128.0,607.2 L1128.5,610.2 L1129.0,613.7 L1129.5,618.9 L1130.0,625.3 L1130.5,632.5 L1131.0,640.2 L1131.5,649.3 L1132.0,659.4 L1132.5,670.0 L1133.0,681.0 L1133.5,692.6 L1134.0,704.8 L1134.5,717.1 L1135.0,729.3 L1135.5,741.2 L1136.0,752.4 L1136.5,763.0 L1137.0,773.5 L1137.5,784.1 L1138.0,794.6 L1138.5,805.0 L1139.0,815.3 L1139.5,825.2 L1140.0,834.9 L1140.5,844.1 L1141.0,852.9 L1141.5,861.2 L1142.0,868.8 L1142.5,875.8 L1143.0,882.0 L1143.5,888.0 L1144.0,894.1 L1144.5,900.0 L1145.0,905.7 L1145.5,910.7 L1146.0,914.9 L1146.5,918.0 L1147.0,919.7 L1147.5,919.9 L1148.0,918.3 L1148.5,915.3 L1149.0,911.1 L1149.5,906.0 L1150.0,900.3 L1150.5,894.2 L1151.0,888.0 L1151.5,882.0 L1152.0,875.9 L1152.5,869.4 L1153.0,862.3 L1153.5,854.8 L1154.0,846.9 L1154.5,838.5 L1155.0,829.8 L1155.5,820.7 L1156.0,811.2 L1156.5,801.3 L1157.0,791.2 L1157.5,780.7 L1158.0,770.0 L1158.5,758.9 L1159.0,747.5 L1159.5,735.4 L1160.0,722.6 L1160.5,709.1 L1161.0,694.9 L1161.5,680.2 L1162.0,664.8 L1162.5,648.9 L1163.0,632.4 L1163.5,615.4 L1164.0,597.9 L1164.5,580.0 L1165.0,560.1 L1165.5,537.3 L1166.0,512.6 L1166.5,486.9 L1167.0,461.2 L1167.5,436.4 L1168.0,413.4 L1168.5,393.2 L1169.0,376.7 L1169.5,364.8 L1170.0,354.9 L1170.5,342.6 L1171.0,321.7 L1171.5,294.3 L1172.0,268.7 L1172.5,252.7 L1173.0,241.7 L1173.5,232.1 L1174.0,224.6 L1174.5,220.3 L1175.0,219.8 L1175.5,223.5 L1176.0,230.4 L1176.5,239.7 L1177.0,250.5 L1177.5,263.8 L1178.0,285.4 L1178.5,311.5 L1179.0,337.7 L1179.5,361.4 L1180.0,388.2 L1180.5,420.4 L1181.0,456.2 L1181.5,493.2 L1182.0,529.3 L1182.5,562.5 L1183.0,590.8 L1183.5,616.4 L1184.0,640.4 L1184.5,663.1 L1185.0,684.8 L1185.5,706.0 L1186.0,727.0 L1186.5,748.1 L1187.0,769.8 L1187.5,792.0 L1188.0,814.4 L1188.5,836.7 L1189.0,858.4 L1189.5,879.3 L1190.0,899.1 L1190.5,917.2 L1191.0,933.4 L1191.5,948.6 L1192.0,963.1 L1192.5,975.8 L1193.0,985.5 L1193.5,991.7 L1194.0,996.8 L1194.5,1001.0 L1195.0,1004.6 L1195.5,1007.8 L1196.0,1010.6 L1196.5,1013.3 L1197.0,1015.8 L1197.5,1018.0 L1198.0,1020.0 L1198.5,1021.9 L1199.0,1023.7 L1199.5,1025.5 L1200.0,1027.3 L1200.5,1029.1 L1201.0,1031.1 L1201.5,1033.1 L1202.0,1035.1 L1202.5,1037.0 L1203.0,1039.0 L1203.5,1041.0 L1204.0,1043.0 L1204.5,1045.0 L1205.0,1047.0 L1205.5,1049.2 L1206.0,1051.5 L1206.5,1053.8 L1207.0,1056.0 L1207.5,1058.0 L1208.0,1059.5 L1208.5,1060.5 L1209.0,1061.5 L1209.5,1062.4 L1210.0,1063.1 L1210.5,1063.8 L1211.0,1064.2 L1211.5,1064.3 L1212.0,1064.1 L1212.5,1063.6 L1213.0,1062.8 L1213.5,1061.8 L1214.0,1060.7 L1214.5,1059.4 L1215.0,1058.0 L1215.5,1055.9 L1216.0,1053.1 L1216.5,1049.8 L1217.0,1046.2 L1217.5,1042.7 L1218.0,1039.4 L1218.5,1036.6 L1219.0,1033.7 L1219.5,1030.9 L1220.0,1028.4 L1220.5,1026.4 L1221.0,1025.0 L1221.5,1023.8 L1222.0,1022.7 L1222.5,1021.9 L1223.0,1021.4 L1223.5,1021.5 L1224.0,1021.8 L1224.5,1022.4 L1225.0,1023.3 L1225.5,1024.3 L1226.0,1025.4 L1226.5,1026.6 L1227.0,1028.3 L1227.5,1030.7 L1228.0,1033.5 L1228.5,1036.6 L1229.0,1039.5 L1229.5,1042.1 L1230.0,1044.0 L1230.5,1045.8 L1231.0,1047.4 L1231.5,1048.9 L1232.0,1050.2 L1232.5,1051.5 L1233.0,1052.7 L1233.5,1053.7 L1234.0,1054.8 L1234.5,1055.9 L1235.0,1056.9 L1235.5,1057.9 L1236.0,1058.7 L1236.5,1059.3 L1237.0,1059.7 L1237.5,1059.9 L1238.0,1059.9 L1238.5,1059.8 L1239.0,1059.8 L1239.5,1059.7 L1240.0,1059.6 L1240.5,1059.5 L1241.0,1059.3 L1241.5,1059.2 L1242.0,1058.9 L1242.5,1058.4 L1243.0,1057.7 L1243.5,1056.8 L1244.0,1055.8 L1244.5,1054.7 L1245.0,1053.7 L1245.5,1052.9 L1246.0,1052.1 L1246.5,1051.4 L1247.0,1050.6 L1247.5,1049.9 L1248.0,1049.2 L1248.5,1048.6 L1249.0,1048.1 L1249.5,1047.7 L1250.0,1047.4 L1250.5,1047.2 L1251.0,1047.1 L1251.5,1047.0 L1252.0,1046.9 L1252.5,1046.9 L1253.0,1046.8 L1253.5,1046.7 L1254.0,1046.7 L1254.5,1046.6 L1255.0,1046.5 L1255.5,1046.4 L1256.0,1046.2 L1256.5,1046.1 L1257.0,1045.9 L1257.5,1045.7 L1258.0,1045.5 L1258.5,1045.2 L1259.0,1044.9 L1259.5,1044.6 L1260.0,1044.3 L1260.5,1044.0 L1261.0,1043.7 L1261.5,1043.4 L1262.0,1043.0 L1262.5,1042.6 L1263.0,1042.2 L1263.5,1041.7 L1264.0,1041.2 L1264.5,1040.7 L1265.0,1040.2 L1265.5,1039.6 L1266.0,1039.1 L1266.5,1038.5 L1267.0,1037.9 L1267.5,1037.4 L1268.0,1036.9 L1268.5,1036.4 L1269.0,1035.9 L1269.5,1035.4 L1270.0,1034.9 L1270.5,1034.3 L1271.0,1033.7 L1271.5,1033.1 L1272.0,1032.4 L1272.5,1031.6 L1273.0,1030.7 L1273.5,1029.6 L1274.0,1028.4 L1274.5,1027.0 L1275.0,1025.5 L1275.5,1023.9 L1276.0,1022.1 L1276.5,1020.3 L1277.0,1018.2 L1277.5,1015.6 L1278.0,1012.6 L1278.5,1009.4 L1279.0,1006.2 L1279.5,1003.0 L1280.0,1000.0 L1280.5,996.9 L1281.0,993.6 L1281.5,990.3 L1282.0,987.3 L1282.5,984.9 L1283.0,983.3 L1283.5,982.3 L1284.0,981.3 L1284.5,980.4 L1285.0,979.7 L1285.5,979.1 L1286.0,978.8 L1286.5,978.6 L1287.0,978.7 L1287.5,979.0 L1288.0,979.5 L1288.5,980.1 L1289.0,980.8 L1289.5,981.5 L1290.0,982.2 L1290.5,982.9 L1291.0,983.5 L1291.5,984.2 L1292.0,985.0 L1292.5,985.8 L1293.0,986.6 L1293.5,987.2 L1294.0,987.8 L1294.5,988.2 L1295.0,988.3 L1295.5,988.3 L1296.0,988.2 L1296.5,988.2 L1297.0,988.1 L1297.5,988.0 L1298.0,987.9 L1298.5,987.7 L1299.0,987.5 L1299.5,987.3 L1300.0,986.8 L1300.5,986.1 L1301.0,985.2 L1301.5,984.1 L1302.0,982.7 L1302.5,981.2 L1303.0,979.4 L1303.5,977.2 L1304.0,972.8 L1304.5,967.2 L1305.0,962.1 L1305.5,957.2 L1306.0,952.4 L1306.5,947.6 L1307.0,942.5 L1307.5,937.3 L1308.0,931.7 L1308.5,925.7 L1309.0,919.5 L1309.5,912.9 L1310.0,906.0 L1310.5,898.8 L1311.0,891.2 L1311.5,883.3 L1312.0,875.0 L1312.5,866.2 L1313.0,857.0 L1313.5,847.4 L1314.0,837.2 L1314.5,826.5 L1315.0,815.3 L1315.5,803.4 L1316.0,790.7 L1316.5,776.7 L1317.0,761.7 L1317.5,746.0 L1318.0,729.7 L1318.5,713.2 L1319.0,696.7 L1319.5,679.4 L1320.0,661.1 L1320.5,642.3 L1321.0,623.3 L1321.5,604.4 L1322.0,586.1 L1322.5,568.7 L1323.0,552.7 L1323.5,538.2 L1324.0,524.9 L1324.5,512.4 L1325.0,500.4 L1325.5,488.7 L1326.0,476.9 L1326.5,464.6 L1327.0,451.1 L1327.5,436.3 L1328.0,422.2 L1328.5,411.1 L1329.0,404.1 L1329.5,398.0 L1330.0,393.0 L1330.5,390.0 L1331.0,389.7 L1331.5,392.3 L1332.0,396.9 L1332.5,402.8 L1333.0,409.4 L1333.5,419.6 L1334.0,433.2 L1334.5,448.1 L1335.0,462.1 L1335.5,474.5 L1336.0,486.2 L1336.5,497.8 L1337.0,509.9 L1337.5,522.8 L1338.0,537.2 L1338.5,553.7 L1339.0,574.3 L1339.5,598.0 L1340.0,623.5 L1340.5,649.3 L1341.0,673.9 L1341.5,696.0 L1342.0,715.4 L1342.5,734.0 L1343.0,751.7 L1343.5,768.5 L1344.0,784.0 L1344.5,798.3 L1345.0,811.3 L1345.5,823.2 L1346.0,834.2 L1346.5,844.3 L1347.0,853.7 L1347.5,862.6 L1348.0,869.9 L1348.5,874.9 L1349.0,879.2 L1349.5,882.9 L1350.0,886.1 L1350.5,889.1 L1351.0,892.1 L1351.5,895.0 L1352.0,897.7 L1352.5,900.3 L1353.0,902.8 L1353.5,905.2 L1354.0,907.5 L1354.5,909.8 L1355.0,912.2 L1355.5,914.5 L1356.0,916.7 L1356.5,918.8 L1357.0,920.9 L1357.5,922.9 L1358.0,925.0 L1358.5,927.2 L1359.0,929.5 L1359.5,932.0 L1360.0,934.8 L1360.5,937.8 L1361.0,941.2 L1361.5,944.8 L1362.0,948.6 L1362.5,952.7 L1363.0,957.0 L1363.5,961.9 L1364.0,967.1 L1364.5,972.0 L1365.0,976.7 L1365.5,981.3 L1366.0,985.9 L1366.5,990.4 L1367.0,994.7 L1367.5,998.8 L1368.0,1002.8 L1368.5,1006.5 L1369.0,1010.1 L1369.5,1013.7 L1370.0,1017.1 L1370.5,1020.3 L1371.0,1023.2 L1371.5,1025.7 L1372.0,1027.8 L1372.5,1029.8 L1373.0,1031.8 L1373.5,1033.7 L1374.0,1035.4 L1374.5,1036.9 L1375.0,1038.2 L1375.5,1039.0 L1376.0,1039.5 L1376.5,1039.3 L1377.0,1038.0 L1377.5,1035.8 L1378.0,1033.0 L1378.5,1029.9 L1379.0,1026.8 L1379.5,1023.8 L1380.0,1020.8 L1380.5,1017.4 L1381.0,1013.9 L1381.5,1010.2 L1382.0,1006.3 L1382.5,1002.4 L1383.0,998.4 L1383.5,994.3 L1384.0,990.0 L1384.5,985.6 L1385.0,981.1 L1385.5,976.5 L1386.0,971.7 L1386.5,966.8 L1387.0,961.4 L1387.5,955.6 L1388.0,949.7 L1388.5,944.0 L1389.0,938.7 L1389.5,934.2 L1390.0,930.5 L1390.5,927.2 L1391.0,924.2 L1391.5,921.3 L1392.0,918.3 L1392.5,915.0 L1393.0,911.1 L1393.5,906.7 L1394.0,902.4 L1394.5,898.7 L1395.0,896.0 L1395.5,893.6 L1396.0,891.5 L1396.5,890.1 L1397.0,889.7 L1397.5,890.5 L1398.0,892.2 L1398.5,894.5 L1399.0,897.0 L1399.5,900.5 L1400.0,905.4 L1400.5,910.9 L1401.0,917.0 L1401.5,924.1 L1402.0,931.4 L1402.5,938.2 L1403.0,944.5 L1403.5,950.8 L1404.0,957.1 L1404.5,963.7 L1405.0,970.7 L1405.5,978.1 L1406.0,985.9 L1406.5,993.8 L1407.0,1001.8 L1407.5,1010.5 L1408.0,1021.1 L1408.5,1030.7 L1409.0,1035.8 L1409.5,1034.7 L1410.0,1030.0 L1410.5,1023.0 L1411.0,1014.8 L1411.5,1006.8 L1412.0,1000.0 L1412.5,994.4 L1413.0,989.2 L1413.5,984.1 L1414.0,978.9 L1414.5,973.5 L1415.0,967.8 L1415.5,961.6 L1416.0,955.0 L1416.5,948.2 L1417.0,941.2 L1417.5,934.2 L1418.0,927.0 L1418.5,919.5 L1419.0,911.9 L1419.5,904.4 L1420.0,897.1 L1420.5,890.4 L1421.0,883.8 L1421.5,877.3 L1422.0,871.4 L1422.5,866.7 L1423.0,863.2 L1423.5,859.9 L1424.0,857.3 L1424.5,855.8 L1425.0,856.0 L1425.5,857.7 L1426.0,860.5 L1426.5,863.9 L1427.0,867.5 L1427.5,872.4 L1428.0,878.5 L1428.5,885.1 L1429.0,891.7 L1429.5,898.9 L1430.0,906.7 L1430.5,914.8 L1431.0,922.7 L1431.5,930.1 L1432.0,936.7 L1432.5,942.7 L1433.0,948.3 L1433.5,953.7 L1434.0,959.1 L1434.5,964.5 L1435.0,970.1 L1435.5,975.7 L1436.0,981.5 L1436.5,987.2 L1437.0,992.9 L1437.5,998.6 L1438.0,1004.3 L1438.5,1010.0 L1439.0,1016.0 L1439.5,1022.7 L1440.0,1029.7 L1440.5,1036.7 L1441.0,1043.4 L1441.5,1049.6 L1442.0,1054.9 L1442.5,1059.1 L1443.0,1061.9 L1443.5,1063.2 L1444.0,1064.4 L1444.5,1065.5 L1445.0,1066.5 L1445.5,1067.4 L1446.0,1068.3 L1446.5,1069.0 L1447.0,1069.7 L1447.5,1070.4 L1448.0,1070.9 L1448.5,1071.3 L1449.0,1071.7 L1449.5,1072.0 L1450.0,1072.2 L1450.5,1072.3 L1451.0,1072.3 L1451.5,1072.1 L1452.0,1071.8 L1452.5,1071.3 L1453.0,1070.6 L1453.5,1069.8 L1454.0,1068.8 L1454.5,1067.7 L1455.0,1066.4 L1455.5,1065.0 L1456.0,1062.2 L1456.5,1057.1 L1457.0,1050.3 L1457.5,1042.1 L1458.0,1033.3 L1458.5,1024.2 L1459.0,1015.3 L1459.5,1005.1 L1460.0,993.9 L1460.5,981.9 L1461.0,969.7 L1461.5,957.6 L1462.0,945.8 L1462.5,933.9 L1463.0,921.6 L1463.5,908.4 L1464.0,894.2 L1464.5,878.9 L1465.0,862.7 L1465.5,845.4 L1466.0,827.2 L1466.5,808.0 L1467.0,787.1 L1467.5,763.0 L1468.0,738.3 L1468.5,715.8 L1469.0,695.1 L1469.5,675.5 L1470.0,657.1 L1470.5,639.5 L1471.0,622.1 L1471.5,605.4 L1472.0,590.2 L1472.5,577.2 L1473.0,565.9 L1473.5,554.6 L1474.0,544.5 L1474.5,537.4 L1475.0,534.7 L1475.5,537.4 L1476.0,544.4 L1476.5,554.3 L1477.0,565.7 L1477.5,577.3 L1478.0,591.0 L1478.5,607.4 L1479.0,625.9 L1479.5,645.9 L1480.0,667.8 L1480.5,692.9 L1481.0,720.0 L1481.5,750.6 L1482.0,782.8 L1482.5,810.4 L1483.0,834.5 L1483.5,856.0 L1484.0,875.3 L1484.5,893.3 L1485.0,910.3 L1485.5,926.4 L1486.0,941.8 L1486.5,956.6 L1487.0,971.0 L1487.5,985.4 L1488.0,1000.4 L1488.5,1015.3 L1489.0,1029.2 L1489.5,1041.0 L1490.0,1049.9 L1490.5,1055.7 L1491.0,1060.7 L1491.5,1064.9 L1492.0,1067.6 L1492.5,1068.3 L1493.0,1068.0 L1493.5,1067.3 L1494.0,1066.3 L1494.5,1065.2 L1495.0,1064.0 L1495.5,1062.7 L1496.0,1061.6 L1496.5,1060.3 L1497.0,1058.7 L1497.5,1057.2 L1498.0,1056.1 L1498.5,1055.8 L1499.0,1055.8 L1499.5,1055.9 L1500.0,1056.1 L1500.5,1056.2 L1501.0,1056.3 L1501.5,1056.5 L1502.0,1056.6 L1502.5,1056.6 L1503.0,1056.6 L1503.5,1056.6 L1504.0,1056.5 L1504.5,1056.4 L1505.0,1056.3 L1505.5,1056.2 L1506.0,1056.0 L1506.5,1055.9 L1507.0,1055.7 L1507.5,1055.4 L1508.0,1055.0 L1508.5,1054.4 L1509.0,1053.8 L1509.5,1053.2 L1510.0,1052.5 L1510.5,1051.9 L1511.0,1051.4 L1511.5,1051.0 L1512.0,1050.7 L1512.5,1050.5 L1513.0,1050.3 L1513.5,1050.1 L1514.0,1049.9 L1514.5,1049.7 L1515.0,1049.6 L1515.5,1049.4 L1516.0,1049.3 L1516.5,1049.1 L1517.0,1049.0 L1517.5,1048.9 L1518.0,1048.8 L1518.5,1048.7 L1519.0,1048.6 L1519.5,1048.5 L1520.0,1048.4 L1520.5,1048.3 L1521.0,1048.2 L1521.5,1048.2 L1522.0,1048.1 L1522.5,1048.1 L1523.0,1048.1 L1523.5,1048.3 L1524.0,1048.5 L1524.5,1048.7 L1525.0,1049.0 L1525.5,1049.3 L1526.0,1049.6 L1526.5,1049.9 L1527.0,1050.0 L1527.5,1050.1 L1528.0,1050.1 L1528.5,1050.0 L1529.0,1049.9 L1529.5,1049.8 L1530.0,1049.7 L1530.5,1049.5 L1531.0,1049.4 L1531.5,1049.2 L1532.0,1049.1 L1532.5,1048.9 L1533.0,1048.8 L1533.5,1048.7 L1534.0,1048.5 L1534.5,1048.4 L1535.0,1048.2 L1535.5,1048.1 L1536.0,1048.0 L1536.5,1047.9 L1537.0,1047.8 L1537.5,1047.8 L1538.0,1047.8 L1538.5,1047.8 L1539.0,1047.9 L1539.5,1047.9 L1540.0,1048.0 L1540.5,1048.0 L1541.0,1048.1 L1541.5,1048.2 L1542.0,1048.2 L1542.5,1048.3 L1543.0,1048.3 L1543.5,1048.4 L1544.0,1048.4 L1544.5,1048.4 L1545.0,1048.4 L1545.5,1048.4 L1546.0,1048.4 L1546.5,1048.4 L1547.0,1048.4 L1547.5,1048.4 L1548.0,1048.4 L1548.5,1048.4 L1549.0,1048.4 L1549.5,1048.4 L1550.0,1048.4 L1550.5,1048.4 L1551.0,1048.4 L1551.5,1048.4 L1552.0,1048.4 L1552.5,1048.4 L1553.0,1048.4 L1553.5,1048.4 L1554.0,1048.5 L1554.5,1048.5 L1555.0,1048.6 L1555.5,1048.7 L1556.0,1048.8 L1556.5,1048.9 L1557.0,1049.0 L1557.5,1049.1 L1558.0,1049.2 L1558.5,1049.6 L1559.0,1050.0 L1559.5,1050.5 L1560.0,1051.0 L1560.5,1051.5 L1561.0,1052.1 L1561.5,1052.6 L1562.0,1053.0 L1562.5,1053.3 L1563.0,1053.5 L1563.5,1053.7 L1564.0,1053.8 L1564.5,1054.0 L1565.0,1054.2 L1565.5,1054.3 L1566.0,1054.4 L1566.5,1054.5 L1567.0,1054.6 L1567.5,1054.6 L1568.0,1054.6 L1568.5,1054.5 L1569.0,1054.5 L1569.5,1054.4 L1570.0,1054.3 L1570.5,1054.2 L1571.0,1054.1 L1571.5,1054.0 L1572.0,1053.9 L1572.5,1053.8 L1573.0,1053.7 L1573.5,1053.6 L1574.0,1053.6 L1574.5,1053.6 L1575.0,1053.6 L1575.5,1053.6 L1576.0,1053.7 L1576.5,1053.7 L1577.0,1053.7 L1577.5,1053.8 L1578.0,1053.8 L1578.5,1053.9 L1579.0,1053.9 L1579.5,1053.9 L1580.0,1054.0 L1580.5,1054.0 L1581.0,1054.1 L1581.5,1054.1 L1582.0,1054.1 L1582.5,1054.1 L1583.0,1054.1 L1583.5,1054.1 L1584.0,1054.1 L1584.5,1054.1 L1585.0,1054.1 L1585.5,1054.1 L1586.0,1054.1 L1586.5,1054.1 L1587.0,1054.1 L1587.5,1054.1 L1588.0,1054.1 L1588.5,1054.1 L1589.0,1054.1 L1589.5,1054.1 L1590.0,1054.1 L1590.5,1054.1 L1591.0,1054.1 L1591.5,1054.1 L1592.0,1054.1 L1592.5,1054.1 L1593.0,1054.0 L1593.5,1054.0 L1594.0,1053.9 L1594.5,1053.9 L1595.0,1053.9 L1595.5,1053.8 L1596.0,1053.8 L1596.5,1053.7 L1597.0,1053.7 L1597.5,1053.7 L1598.0,1053.6 L1598.5,1053.6 L1599.0,1053.6 L1599.5,1053.6 L1600.0,1053.6 L1600.5,1053.6 L1601.0,1053.7 L1601.5,1053.7 L1602.0,1053.7 L1602.5,1053.8 L1603.0,1053.8 L1603.5,1053.9 L1604.0,1053.9 L1604.5,1053.9 L1605.0,1054.0 L1605.5,1054.0 L1606.0,1054.1 L1606.5,1054.1 L1607.0,1054.1 L1607.5,1054.1 L1608.0,1054.1 L1608.5,1054.0 L1609.0,1053.9 L1609.5,1053.8 L1610.0,1053.7 L1610.5,1053.5 L1611.0,1053.4 L1611.5,1053.2 L1612.0,1053.0 L1612.5,1052.9 L1613.0,1052.7 L1613.5,1052.6 L1614.0,1052.4 L1614.5,1052.3 L1615.0,1052.2 L1615.5,1052.1 L1616.0,1052.0 L1616.5,1051.9 L1617.0,1051.8 L1617.5,1051.7 L1618.0,1051.6 L1618.5,1051.5 L1619.0,1051.4 L1619.5,1051.4 L1620.0,1051.3 L1620.5,1051.3 L1621.0,1051.3 L1621.5,1051.3 L1622.0,1051.3 L1622.5,1051.3 L1623.0,1051.3 L1623.5,1051.4 L1624.0,1051.4 L1624.5,1051.4 L1625.0,1051.5 L1625.5,1051.5 L1626.0,1051.5 L1626.5,1051.5 L1627.0,1051.6 L1627.5,1051.6 L1628.0,1051.6 L1628.5,1051.7 L1629.0,1051.7 L1629.5,1051.7 L1630.0,1051.8 L1630.5,1051.8 L1631.0,1051.8 L1631.5,1051.8 L1632.0,1051.9 L1632.5,1051.9 L1633.0,1051.9 L1633.5,1051.9 L1634.0,1051.9 L1634.5,1051.9 L1635.0,1051.9"/>
    <path stroke="#0000ff" d="M170.0,1115.3 L170.5,1115.2 L171.0,1115.1 L171.5,1115.0 L172.0,1114.9 L172.5,1114.7 L173.0,1114.5 L173.5,1114.2 L174.0,1113.9 L174.5,1113.7 L175.0,1113.4 L175.5,1113.2 L176.0,1113.0 L176.5,1112.9 L177.0,1112.9 L177.5,1113.0 L178.0,1113.1 L178.5,1113.4 L179.0,1113.6 L179.5,1113.9 L180.0,1114.3 L180.5,1114.7 L181.0,1115.1 L181.5,1116.0 L182.0,1117.2 L182.5,1118.7 L183.0,1120.4 L183.5,1122.2 L184.0,1123.9 L184.5,1125.4 L185.0,1126.6 L185.5,1127.6 L186.0,1128.6 L186.5,1129.5 L187.0,1130.4 L187.5,1131.2 L188.0,1132.0 L188.5,1132.8 L189.0,1133.5 L189.5,1134.2 L190.0,1134.9 L190.5,1135.6 L191.0,1136.3 L191.5,1137.0 L192.0,1137.8 L192.5,1138.5 L193.0,1139.1 L193.5,1139.7 L194.0,1140.3 L194.5,1140.7 L195.0,1141.0 L195.5,1141.2 L196.0,1141.2 L196.5,1141.1 L197.0,1140.8 L197.5,1140.5 L198.0,1140.0 L198.5,1139.5 L199.0,1138.9 L199.5,1138.3 L200.0,1137.6 L200.5,1136.9 L201.0,1136.2 L201.5,1135.2 L202.0,1133.9 L202.5,1132.4 L203.0,1130.9 L203.5,1129.2 L204.0,1127.7 L204.5,1126.2 L205.0,1124.9 L205.5,1123.7 L206.0,1122.5 L206.5,1121.3 L207.0,1120.1 L207.5,1119.0 L208.0,1118.1 L208.5,1117.3 L209.0,1116.7 L209.5,1116.3 L210.0,1115.9 L210.5,1115.6 L211.0,1115.3 L211.5,1115.0 L212.0,1114.7 L212.5,1114.5 L213.0,1114.3 L213.5,1114.1 L214.0,1113.9 L214.5,1113.8 L215.0,1113.7 L215.5,1113.6 L216.0,1113.5 L216.5,1113.4 L217.0,1113.3 L217.5,1113.3 L218.0,1113.2 L218.5,1113.1 L219.0,1113.1 L219.5,1113.0 L220.0,1113.0 L220.5,1112.9 L221.0,1112.9 L221.5,1112.9 L222.0,1112.9 L222.5,1112.9 L223.0,1112.9 L223.5,1113.0 L224.0,1113.0 L224.5,1113.1 L225.0,1113.1 L225.5,1113.2 L226.0,1113.2 L226.5,1113.3 L227.0,1113.4 L227.5,1113.5 L228.0,1113.5 L228.5,1113.6 L229.0,1113.8 L229.5,1113.9 L230.0,1114.1 L230.5,1114.4 L231.0,1114.6 L231.5,1114.9 L232.0,1115.2 L232.5,1115.4 L233.0,1115.7 L233.5,1116.0 L234.0,1116.2 L234.5,1116.4 L235.0,1116.6 L235.5,1116.7 L236.0,1116.9 L236.5,1117.0 L237.0,1117.1 L237.5,1117.2 L238.0,1117.3 L238.5,1117.4 L239.0,1117.5 L239.5,1117.6 L240.0,1117.8 L240.5,1117.9 L241.0,1118.0 L241.5,1118.2 L242.0,1118.3 L242.5,1118.5 L243.0,1118.8 L243.5,1119.0 L244.0,1119.2 L244.5,1119.5 L245.0,1119.8 L245.5,1120.1 L246.0,1120.3 L246.5,1120.6 L247.0,1120.9 L247.5,1121.2 L248.0,1121.4 L248.5,1121.7 L249.0,1122.0 L249.5,1122.2 L250.0,1122.5 L250.5,1122.7 L251.0,1123.0 L251.5,1123.2 L252.0,1123.5 L252.5,1123.7 L253.0,1124.0 L253.5,1124.2 L254.0,1124.5 L254.5,1124.7 L255.0,1124.9 L255.5,1125.2 L256.0,1125.5 L256.5,1125.7 L257.0,1126.0 L257.5,1126.3 L258.0,1126.6 L258.5,1126.8 L259.0,1127.1 L259.5,1127.3 L260.0,1127.6 L260.5,1127.8 L261.0,1128.0 L261.5,1128.2 L262.0,1128.3 L262.5,1128.5 L263.0,1128.7 L263.5,1128.9 L264.0,1129.0 L264.5,1129.2 L265.0,1129.3 L265.5,1129.5 L266.0,1129.6 L266.5,1129.7 L267.0,1129.8 L267.5,1129.9 L268.0,1129.9 L268.5,1129.9 L269.0,1129.8 L269.5,1129.8 L270.0,1129.6 L270.5,1129.5 L271.0,1129.3 L271.5,1129.1 L272.0,1128.9 L272.5,1128.7 L273.0,1128.5 L273.5,1128.4 L274.0,1128.3 L274.5,1128.2 L275.0,1128.2 L275.5,1128.2 L276.0,1128.3 L276.5,1128.3 L277.0,1128.4 L277.5,1128.5 L278.0,1128.6 L278.5,1128.7 L279.0,1128.8 L279.5,1128.9 L280.0,1129.0 L280.5,1129.0 L281.0,1129.1 L281.5,1129.1 L282.0,1129.1 L282.5,1128.9 L283.0,1128.7 L283.5,1128.5 L284.0,1128.2 L284.5,1127.8 L285.0,1127.5 L285.5,1127.2 L286.0,1127.0 L286.5,1126.8 L287.0,1126.6 L287.5,1126.6 L288.0,1126.6 L288.5,1126.7 L289.0,1126.7 L289.5,1126.8 L290.0,1126.9 L290.5,1127.0 L291.0,1127.1 L291.5,1127.2 L292.0,1127.4 L292.5,1127.5 L293.0,1127.7 L293.5,1127.8 L294.0,1127.9 L294.5,1128.1 L295.0,1128.2 L295.5,1128.4 L296.0,1128.5 L296.5,1128.7 L297.0,1128.9 L297.5,1129.1 L298.0,1129.3 L298.5,1129.5 L299.0,1129.7 L299.5,1129.9 L300.0,1130.1 L300.5,1130.3 L301.0,1130.5 L301.5,1130.7 L302.0,1130.8 L302.5,1131.0 L303.0,1131.2 L303.5,1131.4 L304.0,1131.6 L304.5,1131.8 L305.0,1131.9 L305.5,1132.1 L306.0,1132.3 L306.5,1132.4 L307.0,1132.6 L307.5,1132.7 L308.0,1132.9 L308.5,1133.0 L309.0,1133.1 L309.5,1133.2 L310.0,1133.3 L310.5,1133.4 L311.0,1133.5 L311.5,1133.6 L312.0,1133.7 L312.5,1133.8 L313.0,1133.9 L313.5,1133.9 L314.0,1134.0 L314.5,1134.0 L315.0,1134.0 L315.5,1134.0 L316.0,1133.9 L316.5,1133.8 L317.0,1133.7 L317.5,1133.6 L318.0,1133.4 L318.5,1133.3 L319.0,1133.1 L319.5,1132.9 L320.0,1132.7 L320.5,1132.5 L321.0,1132.3 L321.5,1132.0 L322.0,1131.6 L322.5,1131.1 L323.0,1130.6 L323.5,1130.2 L324.0,1129.7 L324.5,1129.2 L325.0,1128.8 L325.5,1128.5 L326.0,1128.3 L326.5,1128.2 L327.0,1128.2 L327.5,1128.2 L328.0,1128.2 L328.5,1128.2 L329.0,1128.2 L329.5,1128.2 L330.0,1128.2 L330.5,1128.3 L331.0,1128.7 L331.5,1129.1 L332.0,1129.6 L332.5,1130.2 L333.0,1130.8 L333.5,1131.3 L334.0,1131.8 L334.5,1132.2 L335.0,1132.4 L335.5,1132.6 L336.0,1132.8 L336.5,1132.9 L337.0,1133.1 L337.5,1133.2 L338.0,1133.3 L338.5,1133.4 L339.0,1133.5 L339.5,1133.5 L340.0,1133.5 L340.5,1133.5 L341.0,1133.5 L341.5,1133.5 L342.0,1133.5 L342.5,1133.5 L343.0,1133.5 L343.5,1133.5 L344.0,1133.5 L344.5,1133.5 L345.0,1133.5 L345.5,1133.5 L346.0,1133.5 L346.5,1133.5 L347.0,1133.5 L347.5,1133.5 L348.0,1133.5 L348.5,1133.4 L349.0,1133.4 L349.5,1133.4 L350.0,1133.3 L350.5,1133.3 L351.0,1133.2 L351.5,1133.2 L352.0,1133.1 L352.5,1133.0 L353.0,1132.9 L353.5,1132.8 L354.0,1132.6 L354.5,1132.4 L355.0,1132.0 L355.5,1131.6 L356.0,1131.2 L356.5,1130.7 L357.0,1130.2 L357.5,1129.7 L358.0,1129.2 L358.5,1128.7 L359.0,1128.2 L359.5,1127.7 L360.0,1127.3 L360.5,1126.9 L361.0,1126.5 L361.5,1126.2 L362.0,1125.8 L362.5,1125.4 L363.0,1125.1 L363.5,1124.7 L364.0,1124.3 L364.5,1123.9 L365.0,1123.6 L365.5,1123.2 L366.0,1122.8 L366.5,1122.4 L367.0,1122.0 L367.5,1121.6 L368.0,1121.3 L368.5,1120.9 L369.0,1120.5 L369.5,1120.1 L370.0,1119.7 L370.5,1119.2 L371.0,1118.7 L371.5,1118.2 L372.0,1117.6 L372.5,1116.8 L373.0,1116.0 L373.5,1115.1 L374.0,1114.2 L374.5,1113.3 L375.0,1112.5 L375.5,1111.8 L376.0,1111.3 L376.5,1110.9 L377.0,1110.5 L377.5,1110.2 L378.0,1109.9 L378.5,1109.6 L379.0,1109.2 L379.5,1108.8 L380.0,1108.3 L380.5,1107.7 L381.0,1106.8 L381.5,1105.4 L382.0,1103.5 L382.5,1101.0 L383.0,1097.9 L383.5,1093.9 L384.0,1087.1 L384.5,1078.6 L385.0,1069.8 L385.5,1058.6 L386.0,1046.8 L386.5,1038.3 L387.0,1033.0 L387.5,1028.3 L388.0,1024.5 L388.5,1021.7 L389.0,1019.9 L389.5,1018.8 L390.0,1017.8 L390.5,1017.1 L391.0,1016.6 L391.5,1016.4 L392.0,1016.6 L392.5,1017.3 L393.0,1018.2 L393.5,1019.4 L394.0,1020.8 L394.5,1022.8 L395.0,1025.8 L395.5,1029.5 L396.0,1033.8 L396.5,1038.3 L397.0,1043.5 L397.5,1049.8 L398.0,1056.8 L398.5,1064.1 L399.0,1071.6 L399.5,1079.5 L400.0,1088.1 L400.5,1097.0 L401.0,1105.5 L401.5,1113.2 L402.0,1120.7 L402.5,1127.9 L403.0,1133.5 L403.5,1136.6 L404.0,1139.1 L404.5,1140.7 L405.0,1141.2 L405.5,1141.0 L406.0,1140.5 L406.5,1139.9 L407.0,1139.2 L407.5,1138.4 L408.0,1137.7 L408.5,1137.0 L409.0,1136.2 L409.5,1135.4 L410.0,1134.5 L410.5,1133.6 L411.0,1132.7 L411.5,1131.8 L412.0,1131.0 L412.5,1130.2 L413.0,1129.4 L413.5,1128.7 L414.0,1127.9 L414.5,1127.1 L415.0,1126.3 L415.5,1125.5 L416.0,1124.9 L416.5,1124.4 L417.0,1124.1 L417.5,1124.1 L418.0,1124.2 L418.5,1124.4 L419.0,1124.7 L419.5,1125.0 L420.0,1125.4 L420.5,1125.8 L421.0,1126.2 L421.5,1126.6 L422.0,1127.0 L422.5,1127.5 L423.0,1128.0 L423.5,1128.6 L424.0,1129.3 L424.5,1130.0 L425.0,1130.9 L425.5,1131.8 L426.0,1132.8 L426.5,1134.0 L427.0,1136.3 L427.5,1138.2 L428.0,1138.6 L428.5,1139.0 L429.0,1139.2 L429.5,1139.5 L430.0,1139.7 L430.5,1139.8 L431.0,1139.9 L431.5,1139.9 L432.0,1139.8 L432.5,1139.4 L433.0,1138.8 L433.5,1137.9 L434.0,1136.9 L434.5,1135.9 L435.0,1134.9 L435.5,1133.8 L436.0,1132.4 L436.5,1131.0 L437.0,1129.8 L437.5,1129.1 L438.0,1128.7 L438.5,1128.4 L439.0,1128.2 L439.5,1127.9 L440.0,1127.7 L440.5,1127.6 L441.0,1127.5 L441.5,1127.4 L442.0,1127.4 L442.5,1127.5 L443.0,1127.6 L443.5,1127.8 L444.0,1128.0 L444.5,1128.3 L445.0,1128.6 L445.5,1128.9 L446.0,1129.3 L446.5,1130.2 L447.0,1131.4 L447.5,1133.0 L448.0,1134.5 L448.5,1136.0 L449.0,1137.2 L449.5,1138.1 L450.0,1139.1 L450.5,1140.0 L451.0,1140.9 L451.5,1141.7 L452.0,1142.4 L452.5,1142.9 L453.0,1143.2 L453.5,1143.2 L454.0,1143.2 L454.5,1143.2 L455.0,1143.1 L455.5,1143.1 L456.0,1143.0 L456.5,1142.9 L457.0,1142.8 L457.5,1142.5 L458.0,1142.1 L458.5,1141.5 L459.0,1140.9 L459.5,1140.2 L460.0,1139.5 L460.5,1138.8 L461.0,1138.1 L461.5,1137.5 L462.0,1136.9 L462.5,1136.3 L463.0,1135.6 L463.5,1134.9 L464.0,1134.3 L464.5,1133.8 L465.0,1133.5 L465.5,1133.3 L466.0,1133.1 L466.5,1132.9 L467.0,1132.7 L467.5,1132.6 L468.0,1132.5 L468.5,1132.4 L469.0,1132.4 L469.5,1132.4 L470.0,1132.4 L470.5,1132.4 L471.0,1132.4 L471.5,1132.4 L472.0,1132.4 L472.5,1132.4 L473.0,1132.4 L473.5,1132.4 L474.0,1132.2 L474.5,1131.8 L475.0,1131.2 L475.5,1130.6 L476.0,1129.9 L476.5,1129.3 L477.0,1128.7 L477.5,1128.2 L478.0,1127.8 L478.5,1127.3 L479.0,1126.9 L479.5,1126.5 L480.0,1126.1 L480.5,1125.7 L481.0,1125.4 L481.5,1125.1 L482.0,1125.0 L482.5,1124.9 L483.0,1125.0 L483.5,1125.1 L484.0,1125.4 L484.5,1125.7 L485.0,1126.1 L485.5,1126.5 L486.0,1126.9 L486.5,1127.3 L487.0,1127.8 L487.5,1128.4 L488.0,1129.1 L488.5,1129.9 L489.0,1130.7 L489.5,1131.5 L490.0,1132.2 L490.5,1132.9 L491.0,1133.4 L491.5,1134.0 L492.0,1134.5 L492.5,1135.1 L493.0,1135.6 L493.5,1136.2 L494.0,1136.6 L494.5,1137.0 L495.0,1137.2 L495.5,1137.4 L496.0,1137.4 L496.5,1137.4 L497.0,1137.3 L497.5,1137.2 L498.0,1137.1 L498.5,1137.0 L499.0,1136.8 L499.5,1136.7 L500.0,1136.5 L500.5,1136.4 L501.0,1136.3 L501.5,1136.2 L502.0,1136.2 L502.5,1136.1 L503.0,1136.1 L503.5,1136.0 L504.0,1136.0 L504.5,1136.0 L505.0,1135.9 L505.5,1135.9 L506.0,1135.8 L506.5,1135.7 L507.0,1135.6 L507.5,1135.3 L508.0,1134.8 L508.5,1134.3 L509.0,1133.8 L509.5,1133.3 L510.0,1132.8 L510.5,1132.5 L511.0,1132.3 L511.5,1132.2 L512.0,1132.1 L512.5,1132.0 L513.0,1132.0 L513.5,1131.9 L514.0,1131.8 L514.5,1131.8 L515.0,1131.7 L515.5,1131.6 L516.0,1131.4 L516.5,1131.2 L517.0,1130.9 L517.5,1130.6 L518.0,1130.3 L518.5,1130.0 L519.0,1129.8 L519.5,1129.6 L520.0,1129.6 L520.5,1129.7 L521.0,1130.1 L521.5,1130.5 L522.0,1131.0 L522.5,1131.6 L523.0,1132.1 L523.5,1132.7 L524.0,1133.1 L524.5,1133.5 L525.0,1133.9 L525.5,1134.3 L526.0,1134.7 L526.5,1135.1 L527.0,1135.4 L527.5,1135.8 L528.0,1136.1 L528.5,1136.3 L529.0,1136.5 L529.5,1136.6 L530.0,1136.7 L530.5,1136.8 L531.0,1136.9 L531.5,1137.0 L532.0,1137.1 L532.5,1137.2 L533.0,1137.3 L533.5,1137.3 L534.0,1137.4 L534.5,1137.4 L535.0,1137.4 L535.5,1137.2 L536.0,1136.8 L536.5,1136.3 L537.0,1135.6 L537.5,1134.8 L538.0,1134.1 L538.5,1133.3 L539.0,1132.5 L539.5,1131.9 L540.0,1131.2 L540.5,1130.5 L541.0,1129.7 L541.5,1129.0 L542.0,1128.1 L542.5,1127.2 L543.0,1126.3 L543.5,1125.3 L544.0,1124.2 L544.5,1122.9 L545.0,1121.2 L545.5,1118.9 L546.0,1115.7 L546.5,1112.1 L547.0,1108.1 L547.5,1104.1 L548.0,1099.5 L548.5,1094.3 L549.0,1088.9 L549.5,1083.7 L550.0,1079.0 L550.5,1074.6 L551.0,1070.2 L551.5,1066.1 L552.0,1062.5 L552.5,1059.3 L553.0,1056.5 L553.5,1053.9 L554.0,1051.6 L554.5,1049.6 L555.0,1048.0 L555.5,1046.5 L556.0,1045.2 L556.5,1044.0 L557.0,1042.9 L557.5,1042.1 L558.0,1041.5 L558.5,1041.0 L559.0,1040.5 L559.5,1040.2 L560.0,1040.0 L560.5,1039.9 L561.0,1040.2 L561.5,1040.9 L562.0,1041.8 L562.5,1043.0 L563.0,1044.3 L563.5,1046.0 L564.0,1048.7 L564.5,1052.2 L565.0,1056.1 L565.5,1060.1 L566.0,1064.0 L566.5,1068.2 L567.0,1072.7 L567.5,1077.2 L568.0,1081.6 L568.5,1085.6 L569.0,1089.6 L569.5,1093.5 L570.0,1097.1 L570.5,1100.4 L571.0,1103.3 L571.5,1105.9 L572.0,1108.4 L572.5,1110.6 L573.0,1112.5 L573.5,1114.2 L574.0,1115.6 L574.5,1117.0 L575.0,1118.3 L575.5,1119.4 L576.0,1120.5 L576.5,1121.4 L577.0,1122.3 L577.5,1123.1 L578.0,1123.9 L578.5,1124.7 L579.0,1125.4 L579.5,1126.0 L580.0,1126.6 L580.5,1127.2 L581.0,1127.7 L581.5,1128.2 L582.0,1128.7 L582.5,1129.1 L583.0,1129.5 L583.5,1129.9 L584.0,1130.3 L584.5,1130.7 L585.0,1131.1 L585.5,1131.5 L586.0,1131.9 L586.5,1132.3 L587.0,1132.8 L587.5,1133.3 L588.0,1133.9 L588.5,1134.5 L589.0,1135.1 L589.5,1135.6 L590.0,1136.2 L590.5,1136.6 L591.0,1137.0 L591.5,1137.3 L592.0,1137.6 L592.5,1137.8 L593.0,1138.0 L593.5,1138.1 L594.0,1138.3 L594.5,1138.4 L595.0,1138.6 L595.5,1138.7 L596.0,1138.8 L596.5,1139.0 L597.0,1139.1 L597.5,1139.3 L598.0,1139.4 L598.5,1139.6 L599.0,1139.7 L599.5,1139.9 L600.0,1140.0 L600.5,1140.1 L601.0,1140.2 L601.5,1140.2 L602.0,1140.2 L602.5,1140.1 L603.0,1140.0 L603.5,1139.8 L604.0,1139.6 L604.5,1139.4 L605.0,1139.1 L605.5,1138.8 L606.0,1138.5 L606.5,1138.3 L607.0,1137.9 L607.5,1137.5 L608.0,1137.0 L608.5,1136.5 L609.0,1135.9 L609.5,1135.2 L610.0,1134.6 L610.5,1134.0 L611.0,1133.5 L611.5,1133.0 L612.0,1132.5 L612.5,1132.0 L613.0,1131.5 L613.5,1131.0 L614.0,1130.5 L614.5,1130.1 L615.0,1129.7 L615.5,1129.4 L616.0,1129.2 L616.5,1129.1 L617.0,1129.2 L617.5,1129.3 L618.0,1129.6 L618.5,1130.0 L619.0,1130.4 L619.5,1130.8 L620.0,1131.2 L620.5,1131.4 L621.0,1131.6 L621.5,1131.8 L622.0,1131.9 L622.5,1132.0 L623.0,1132.2 L623.5,1132.3 L624.0,1132.3 L624.5,1132.4 L625.0,1132.4 L625.5,1132.4 L626.0,1132.3 L626.5,1132.2 L627.0,1132.1 L627.5,1131.9 L628.0,1131.8 L628.5,1131.6 L629.0,1131.5 L629.5,1131.3 L630.0,1131.2 L630.5,1131.0 L631.0,1130.8 L631.5,1130.6 L632.0,1130.4 L632.5,1130.2 L633.0,1130.0 L633.5,1129.9 L634.0,1129.9 L634.5,1130.0 L635.0,1130.3 L635.5,1130.8 L636.0,1131.3 L636.5,1131.9 L637.0,1132.4 L637.5,1132.8 L638.0,1133.1 L638.5,1133.3 L639.0,1133.4 L639.5,1133.5 L640.0,1133.6 L640.5,1133.7 L641.0,1133.8 L641.5,1133.9 L642.0,1133.9 L642.5,1134.0 L643.0,1134.0 L643.5,1134.0 L644.0,1134.0 L644.5,1133.9 L645.0,1133.9 L645.5,1133.8 L646.0,1133.8 L646.5,1133.7 L647.0,1133.6 L647.5,1133.5 L648.0,1133.5 L648.5,1133.4 L649.0,1133.3 L649.5,1133.2 L650.0,1133.2 L650.5,1133.1 L651.0,1133.1 L651.5,1133.1 L652.0,1133.0 L652.5,1133.0 L653.0,1132.9 L653.5,1132.9 L654.0,1132.9 L654.5,1132.8 L655.0,1132.8 L655.5,1132.7 L656.0,1132.7 L656.5,1132.6 L657.0,1132.6 L657.5,1132.5 L658.0,1132.4 L658.5,1132.3 L659.0,1132.2 L659.5,1131.9 L660.0,1131.7 L660.5,1131.3 L661.0,1131.0 L661.5,1130.6 L662.0,1130.3 L662.5,1129.9 L663.0,1129.6 L663.5,1129.3 L664.0,1129.1 L664.5,1128.9 L665.0,1128.7 L665.5,1128.4 L666.0,1128.2 L666.5,1128.0 L667.0,1127.8 L667.5,1127.6 L668.0,1127.5 L668.5,1127.4 L669.0,1127.4 L669.5,1127.4 L670.0,1127.5 L670.5,1127.6 L671.0,1127.7 L671.5,1127.9 L672.0,1128.1 L672.5,1128.3 L673.0,1128.6 L673.5,1128.8 L674.0,1129.1 L674.5,1129.5 L675.0,1130.1 L675.5,1130.8 L676.0,1131.7 L676.5,1132.5 L677.0,1133.4 L677.5,1134.1 L678.0,1134.7 L678.5,1135.2 L679.0,1135.6 L679.5,1135.9 L680.0,1136.3 L680.5,1136.6 L681.0,1136.9 L681.5,1137.2 L682.0,1137.5 L682.5,1137.7 L683.0,1137.8 L683.5,1138.0 L684.0,1138.1 L684.5,1138.2 L685.0,1138.3 L685.5,1138.4 L686.0,1138.4 L686.5,1138.5 L687.0,1138.6 L687.5,1138.6 L688.0,1138.7 L688.5,1138.8 L689.0,1138.8 L689.5,1138.9 L690.0,1139.0 L690.5,1139.2 L691.0,1139.4 L691.5,1139.5 L692.0,1139.8 L692.5,1140.0 L693.0,1140.2 L693.5,1140.4 L694.0,1140.6 L694.5,1140.8 L695.0,1140.9 L695.5,1141.1 L696.0,1141.2 L696.5,1141.2 L697.0,1141.2 L697.5,1141.1 L698.0,1141.0 L698.5,1140.8 L699.0,1140.6 L699.5,1140.3 L700.0,1140.0 L700.5,1139.7 L701.0,1139.4 L701.5,1139.1 L702.0,1138.8 L702.5,1138.6 L703.0,1138.3 L703.5,1138.1 L704.0,1138.0 L704.5,1137.8 L705.0,1137.7 L705.5,1137.5 L706.0,1137.4 L706.5,1137.2 L707.0,1137.1 L707.5,1136.9 L708.0,1136.7 L708.5,1136.4 L709.0,1136.0 L709.5,1135.5 L710.0,1134.9 L710.5,1134.2 L711.0,1133.5 L711.5,1132.8 L712.0,1132.1 L712.5,1131.5 L713.0,1131.0 L713.5,1130.5 L714.0,1130.1 L714.5,1129.7 L715.0,1129.3 L715.5,1129.0 L716.0,1128.7 L716.5,1128.4 L717.0,1128.3 L717.5,1128.2 L718.0,1128.3 L718.5,1128.4 L719.0,1128.7 L719.5,1129.0 L720.0,1129.4 L720.5,1129.8 L721.0,1130.3 L721.5,1130.7 L722.0,1131.1 L722.5,1131.5 L723.0,1131.9 L723.5,1132.3 L724.0,1132.8 L724.5,1133.2 L725.0,1133.7 L725.5,1134.1 L726.0,1134.6 L726.5,1135.0 L727.0,1135.4 L727.5,1135.8 L728.0,1136.1 L728.5,1136.3 L729.0,1136.5 L729.5,1136.7 L730.0,1136.8 L730.5,1137.0 L731.0,1137.1 L731.5,1137.2 L732.0,1137.3 L732.5,1137.5 L733.0,1137.6 L733.5,1137.7 L734.0,1137.9 L734.5,1138.0 L735.0,1138.2 L735.5,1138.4 L736.0,1138.7 L736.5,1138.9 L737.0,1139.2 L737.5,1139.5 L738.0,1139.8 L738.5,1140.1 L739.0,1140.3 L739.5,1140.5 L740.0,1140.7 L740.5,1140.8 L741.0,1141.0 L741.5,1141.1 L742.0,1141.2 L742.5,1141.3 L743.0,1141.4 L743.5,1141.5 L744.0,1141.5 L744.5,1141.5 L745.0,1141.3 L745.5,1141.0 L746.0,1140.7 L746.5,1140.3 L747.0,1139.9 L747.5,1139.5 L748.0,1139.0 L748.5,1138.6 L749.0,1138.3 L749.5,1137.9 L750.0,1137.6 L750.5,1137.3 L751.0,1137.0 L751.5,1136.6 L752.0,1136.3 L752.5,1136.0 L753.0,1135.7 L753.5,1135.5 L754.0,1135.2 L754.5,1135.0 L755.0,1134.8 L755.5,1134.5 L756.0,1134.3 L756.5,1134.2 L757.0,1134.0 L757.5,1134.0 L758.0,1134.2 L758.5,1134.6 L759.0,1135.2 L759.5,1135.8 L760.0,1136.5 L760.5,1137.1 L761.0,1137.6 L761.5,1138.0 L762.0,1138.5 L762.5,1138.9 L763.0,1139.3 L763.5,1139.7 L764.0,1139.9 L764.5,1140.1 L765.0,1140.2 L765.5,1140.2 L766.0,1140.1 L766.5,1139.9 L767.0,1139.8 L767.5,1139.6 L768.0,1139.4 L768.5,1139.2 L769.0,1139.0 L769.5,1138.9 L770.0,1138.7 L770.5,1138.5 L771.0,1138.4 L771.5,1138.2 L772.0,1138.1 L772.5,1138.0 L773.0,1137.9 L773.5,1137.9 L774.0,1138.0 L774.5,1138.1 L775.0,1138.3 L775.5,1138.6 L776.0,1138.8 L776.5,1139.1 L777.0,1139.4 L777.5,1139.6 L778.0,1139.8 L778.5,1140.0 L779.0,1140.1 L779.5,1140.2 L780.0,1140.3 L780.5,1140.5 L781.0,1140.6 L781.5,1140.6 L782.0,1140.7 L782.5,1140.7 L783.0,1140.5 L783.5,1140.1 L784.0,1139.5 L784.5,1138.9 L785.0,1138.1 L785.5,1137.3 L786.0,1136.5 L786.5,1135.8 L787.0,1135.1 L787.5,1134.3 L788.0,1133.5 L788.5,1132.6 L789.0,1132.0 L789.5,1131.5 L790.0,1131.4 L790.5,1131.6 L791.0,1132.0 L791.5,1132.7 L792.0,1133.3 L792.5,1134.1 L793.0,1134.7 L793.5,1135.3 L794.0,1135.7 L794.5,1135.9 L795.0,1136.0 L795.5,1136.2 L796.0,1136.3 L796.5,1136.4 L797.0,1136.5 L797.5,1136.5 L798.0,1136.3 L798.5,1136.0 L799.0,1135.5 L799.5,1134.9 L800.0,1134.1 L800.5,1133.3 L801.0,1132.5 L801.5,1131.7 L802.0,1130.7 L802.5,1129.5 L803.0,1128.0 L803.5,1126.5 L804.0,1125.1 L804.5,1123.9 L805.0,1123.1 L805.5,1122.3 L806.0,1121.6 L806.5,1121.0 L807.0,1120.4 L807.5,1119.9 L808.0,1119.5 L808.5,1119.2 L809.0,1119.1 L809.5,1119.1 L810.0,1119.1 L810.5,1119.2 L811.0,1119.3 L811.5,1119.3 L812.0,1119.4 L812.5,1119.5 L813.0,1119.5 L813.5,1119.6 L814.0,1119.6 L814.5,1119.6 L815.0,1119.4 L815.5,1119.2 L816.0,1119.0 L816.5,1118.8 L817.0,1118.5 L817.5,1118.3 L818.0,1118.2 L818.5,1118.2 L819.0,1118.2 L819.5,1118.3 L820.0,1118.4 L820.5,1118.6 L821.0,1118.8 L821.5,1119.0 L822.0,1119.2 L822.5,1119.5 L823.0,1119.7 L823.5,1120.0 L824.0,1120.4 L824.5,1121.0 L825.0,1121.6 L825.5,1122.3 L826.0,1123.1 L826.5,1123.8 L827.0,1124.4 L827.5,1125.0 L828.0,1125.6 L828.5,1126.2 L829.0,1126.9 L829.5,1127.5 L830.0,1128.0 L830.5,1128.5 L831.0,1128.9 L831.5,1129.1 L832.0,1129.2 L832.5,1129.3 L833.0,1129.4 L833.5,1129.4 L834.0,1129.5 L834.5,1129.6 L835.0,1129.6 L835.5,1129.6 L836.0,1129.6 L836.5,1129.3 L837.0,1128.9 L837.5,1128.4 L838.0,1127.9 L838.5,1127.6 L839.0,1127.4 L839.5,1127.5 L840.0,1127.8 L840.5,1128.3 L841.0,1128.9 L841.5,1129.5 L842.0,1130.0 L842.5,1130.4 L843.0,1130.7 L843.5,1130.7 L844.0,1130.6 L844.5,1130.5 L845.0,1130.3 L845.5,1130.1 L846.0,1129.8 L846.5,1129.6 L847.0,1129.3 L847.5,1129.1 L848.0,1128.8 L848.5,1128.4 L849.0,1128.0 L849.5,1127.6 L850.0,1127.2 L850.5,1126.8 L851.0,1126.4 L851.5,1126.1 L852.0,1125.8 L852.5,1125.7 L853.0,1125.5 L853.5,1125.4 L854.0,1125.3 L854.5,1125.1 L855.0,1125.0 L855.5,1125.0 L856.0,1124.9 L856.5,1124.9 L857.0,1124.9 L857.5,1125.0 L858.0,1125.1 L858.5,1125.2 L859.0,1125.4 L859.5,1125.6 L860.0,1125.9 L860.5,1126.1 L861.0,1126.3 L861.5,1126.6 L862.0,1126.8 L862.5,1127.2 L863.0,1127.6 L863.5,1128.0 L864.0,1128.4 L864.5,1128.9 L865.0,1129.3 L865.5,1129.6 L866.0,1129.8 L866.5,1129.9 L867.0,1129.9 L867.5,1129.8 L868.0,1129.7 L868.5,1129.6 L869.0,1129.4 L869.5,1129.2 L870.0,1128.9 L870.5,1128.7 L871.0,1128.5 L871.5,1128.2 L872.0,1128.0 L872.5,1127.7 L873.0,1127.4 L873.5,1127.0 L874.0,1126.7 L874.5,1126.3 L875.0,1125.9 L875.5,1125.6 L876.0,1125.2 L876.5,1125.0 L877.0,1124.7 L877.5,1124.4 L878.0,1124.2 L878.5,1123.9 L879.0,1123.6 L879.5,1123.4 L880.0,1123.2 L880.5,1123.1 L881.0,1122.9 L881.5,1122.9 L882.0,1122.9 L882.5,1122.9 L883.0,1123.0 L883.5,1123.1 L884.0,1123.2 L884.5,1123.3 L885.0,1123.4 L885.5,1123.5 L886.0,1123.6 L886.5,1123.8 L887.0,1123.9 L887.5,1124.0 L888.0,1124.1 L888.5,1124.1 L889.0,1124.2 L889.5,1124.3 L890.0,1124.3 L890.5,1124.4 L891.0,1124.4 L891.5,1124.4 L892.0,1124.5 L892.5,1124.5 L893.0,1124.6 L893.5,1124.7 L894.0,1124.7 L894.5,1124.8 L895.0,1124.9 L895.5,1125.1 L896.0,1125.3 L896.5,1125.6 L897.0,1125.9 L897.5,1126.3 L898.0,1126.7 L898.5,1127.1 L899.0,1127.5 L899.5,1127.9 L900.0,1128.3 L900.5,1128.7 L901.0,1129.1 L901.5,1129.6 L902.0,1130.1 L902.5,1130.5 L903.0,1130.9 L903.5,1131.1 L904.0,1131.2 L904.5,1131.2 L905.0,1131.1 L905.5,1130.9 L906.0,1130.7 L906.5,1130.5 L907.0,1130.3 L907.5,1130.0 L908.0,1129.7 L908.5,1129.4 L909.0,1129.1 L909.5,1128.7 L910.0,1128.3 L910.5,1127.8 L911.0,1127.2 L911.5,1126.6 L912.0,1126.0 L912.5,1125.5 L913.0,1125.1 L913.5,1124.7 L914.0,1124.3 L914.5,1123.9 L915.0,1123.5 L915.5,1123.2 L916.0,1123.0 L916.5,1122.9 L917.0,1122.9 L917.5,1123.1 L918.0,1123.2 L918.5,1123.5 L919.0,1123.7 L919.5,1123.9 L920.0,1124.0 L920.5,1124.1 L921.0,1124.1 L921.5,1123.9 L922.0,1123.5 L922.5,1123.1 L923.0,1122.5 L923.5,1121.9 L924.0,1121.2 L924.5,1120.5 L925.0,1119.7 L925.5,1118.7 L926.0,1117.3 L926.5,1115.8 L927.0,1114.3 L927.5,1112.9 L928.0,1111.9 L928.5,1111.2 L929.0,1110.7 L929.5,1110.2 L930.0,1109.8 L930.5,1109.6 L931.0,1109.6 L931.5,1109.9 L932.0,1110.2 L932.5,1110.7 L933.0,1111.3 L933.5,1112.1 L934.0,1113.6 L934.5,1115.5 L935.0,1117.4 L935.5,1119.3 L936.0,1120.8 L936.5,1122.3 L937.0,1123.7 L937.5,1125.1 L938.0,1126.4 L938.5,1127.4 L939.0,1128.2 L939.5,1128.8 L940.0,1129.4 L940.5,1130.0 L941.0,1130.4 L941.5,1130.9 L942.0,1131.3 L942.5,1131.6 L943.0,1131.9 L943.5,1132.2 L944.0,1132.4 L944.5,1132.6 L945.0,1132.7 L945.5,1132.8 L946.0,1132.9 L946.5,1133.0 L947.0,1133.1 L947.5,1133.2 L948.0,1133.3 L948.5,1133.4 L949.0,1133.5 L949.5,1133.7 L950.0,1133.9 L950.5,1134.1 L951.0,1134.3 L951.5,1134.5 L952.0,1134.7 L952.5,1134.8 L953.0,1134.9 L953.5,1134.8 L954.0,1134.3 L954.5,1133.4 L955.0,1132.4 L955.5,1131.4 L956.0,1130.5 L956.5,1129.9 L957.0,1129.6 L957.5,1129.3 L958.0,1129.1 L958.5,1128.9 L959.0,1128.7 L959.5,1128.5 L960.0,1128.2 L960.5,1127.8 L961.0,1127.3 L961.5,1126.8 L962.0,1126.1 L962.5,1125.5 L963.0,1124.7 L963.5,1124.0 L964.0,1123.2 L964.5,1122.4 L965.0,1121.6 L965.5,1120.8 L966.0,1120.0 L966.5,1119.1 L967.0,1118.2 L967.5,1117.2 L968.0,1116.2 L968.5,1115.2 L969.0,1114.0 L969.5,1112.9 L970.0,1111.6 L970.5,1110.3 L971.0,1108.8 L971.5,1107.3 L972.0,1105.7 L972.5,1103.9 L973.0,1102.0 L973.5,1099.9 L974.0,1097.6 L974.5,1095.0 L975.0,1091.9 L975.5,1088.4 L976.0,1084.4 L976.5,1080.3 L977.0,1075.9 L977.5,1071.6 L978.0,1067.1 L978.5,1062.2 L979.0,1057.0 L979.5,1051.8 L980.0,1046.5 L980.5,1041.3 L981.0,1036.3 L981.5,1031.2 L982.0,1026.0 L982.5,1020.8 L983.0,1015.8 L983.5,1011.1 L984.0,1006.6 L984.5,1002.6 L985.0,998.7 L985.5,994.8 L986.0,991.3 L986.5,988.0 L987.0,985.0 L987.5,982.5 L988.0,980.3 L988.5,978.1 L989.0,976.2 L989.5,974.4 L990.0,972.9 L990.5,971.8 L991.0,971.0 L991.5,970.3 L992.0,969.7 L992.5,969.2 L993.0,968.7 L993.5,968.4 L994.0,968.3 L994.5,968.4 L995.0,968.6 L995.5,969.1 L996.0,969.7 L996.5,970.4 L997.0,971.2 L997.5,972.0 L998.0,973.1 L998.5,974.7 L999.0,976.7 L999.5,978.9 L1000.0,981.5 L1000.5,984.1 L1001.0,987.0 L1001.5,990.4 L1002.0,994.4 L1002.5,998.8 L1003.0,1003.3 L1003.5,1008.0 L1004.0,1012.4 L1004.5,1016.8 L1005.0,1021.1 L1005.5,1025.6 L1006.0,1030.0 L1006.5,1034.5 L1007.0,1038.9 L1007.5,1043.3 L1008.0,1047.7 L1008.5,1052.0 L1009.0,1056.4 L1009.5,1060.7 L1010.0,1065.0 L1010.5,1069.2 L1011.0,1073.2 L1011.5,1077.3 L1012.0,1081.3 L1012.5,1085.2 L1013.0,1089.0 L1013.5,1092.6 L1014.0,1096.0 L1014.5,1099.1 L1015.0,1102.1 L1015.5,1105.0 L1016.0,1107.7 L1016.5,1110.3 L1017.0,1112.7 L1017.5,1114.9 L1018.0,1117.0 L1018.5,1119.1 L1019.0,1121.1 L1019.5,1122.9 L1020.0,1124.6 L1020.5,1125.9 L1021.0,1127.0 L1021.5,1128.0 L1022.0,1129.0 L1022.5,1129.9 L1023.0,1130.7 L1023.5,1131.4 L1024.0,1131.9 L1024.5,1132.3 L1025.0,1132.4 L1025.5,1132.4 L1026.0,1132.4 L1026.5,1132.4 L1027.0,1132.4 L1027.5,1132.4 L1028.0,1132.4 L1028.5,1132.4 L1029.0,1132.4 L1029.5,1132.4 L1030.0,1132.4 L1030.5,1132.4 L1031.0,1132.3 L1031.5,1132.2 L1032.0,1132.1 L1032.5,1131.9 L1033.0,1131.8 L1033.5,1131.6 L1034.0,1131.4 L1034.5,1131.2 L1035.0,1131.0 L1035.5,1130.8 L1036.0,1130.6 L1036.5,1130.5 L1037.0,1130.3 L1037.5,1130.1 L1038.0,1129.9 L1038.5,1129.7 L1039.0,1129.5 L1039.5,1129.3 L1040.0,1129.1 L1040.5,1128.8 L1041.0,1128.5 L1041.5,1128.2 L1042.0,1127.8 L1042.5,1127.6 L1043.0,1127.4 L1043.5,1127.4 L1044.0,1127.7 L1044.5,1128.1 L1045.0,1128.7 L1045.5,1129.4 L1046.0,1130.1 L1046.5,1130.7 L1047.0,1131.2 L1047.5,1131.6 L1048.0,1131.8 L1048.5,1132.1 L1049.0,1132.3 L1049.5,1132.5 L1050.0,1132.7 L1050.5,1132.9 L1051.0,1133.0 L1051.5,1133.1 L1052.0,1133.2 L1052.5,1133.2 L1053.0,1133.1 L1053.5,1132.9 L1054.0,1132.6 L1054.5,1132.3 L1055.0,1131.8 L1055.5,1131.4 L1056.0,1130.8 L1056.5,1130.2 L1057.0,1129.6 L1057.5,1129.0 L1058.0,1128.1 L1058.5,1127.0 L1059.0,1125.7 L1059.5,1124.3 L1060.0,1122.8 L1060.5,1121.3 L1061.0,1119.8 L1061.5,1118.4 L1062.0,1117.2 L1062.5,1116.0 L1063.0,1114.8 L1063.5,1113.5 L1064.0,1112.3 L1064.5,1111.1 L1065.0,1110.0 L1065.5,1108.9 L1066.0,1107.8 L1066.5,1106.8 L1067.0,1105.8 L1067.5,1105.0 L1068.0,1104.2 L1068.5,1103.4 L1069.0,1102.6 L1069.5,1101.8 L1070.0,1101.1 L1070.5,1100.2 L1071.0,1099.4 L1071.5,1098.4 L1072.0,1097.3 L1072.5,1096.1 L1073.0,1094.8 L1073.5,1093.5 L1074.0,1092.1 L1074.5,1090.7 L1075.0,1089.4 L1075.5,1088.2 L1076.0,1087.2 L1076.5,1086.1 L1077.0,1084.9 L1077.5,1083.8 L1078.0,1082.9 L1078.5,1082.1 L1079.0,1081.6 L1079.5,1081.3 L1080.0,1081.2 L1080.5,1081.1 L1081.0,1081.0 L1081.5,1080.9 L1082.0,1080.8 L1082.5,1080.7 L1083.0,1080.7 L1083.5,1080.6 L1084.0,1080.6 L1084.5,1080.6 L1085.0,1080.6 L1085.5,1080.5 L1086.0,1080.5 L1086.5,1080.5 L1087.0,1080.5 L1087.5,1080.5 L1088.0,1080.5 L1088.5,1080.5 L1089.0,1080.5 L1089.5,1080.5 L1090.0,1080.4 L1090.5,1080.4 L1091.0,1080.4 L1091.5,1080.1 L1092.0,1079.7 L1092.5,1079.0 L1093.0,1078.2 L1093.5,1077.3 L1094.0,1076.3 L1094.5,1075.3 L1095.0,1074.3 L1095.5,1073.2 L1096.0,1072.2 L1096.5,1071.1 L1097.0,1070.0 L1097.5,1068.7 L1098.0,1067.4 L1098.5,1066.0 L1099.0,1064.5 L1099.5,1062.9 L1100.0,1061.3 L1100.5,1059.4 L1101.0,1057.4 L1101.5,1055.2 L1102.0,1052.8 L1102.5,1050.3 L1103.0,1047.7 L1103.5,1044.9 L1104.0,1041.9 L1104.5,1038.6 L1105.0,1035.1 L1105.5,1031.5 L1106.0,1027.8 L1106.5,1024.0 L1107.0,1020.3 L1107.5,1016.3 L1108.0,1012.2 L1108.5,1008.0 L1109.0,1003.9 L1109.5,999.8 L1110.0,995.8 L1110.5,991.9 L1111.0,988.0 L1111.5,984.1 L1112.0,980.3 L1112.5,976.6 L1113.0,973.0 L1113.5,969.5 L1114.0,966.0 L1114.5,962.6 L1115.0,959.3 L1115.5,956.1 L1116.0,953.2 L1116.5,950.5 L1117.0,948.0 L1117.5,945.6 L1118.0,943.2 L1118.5,941.1 L1119.0,939.2 L1119.5,937.6 L1120.0,936.5 L1120.5,935.5 L1121.0,934.6 L1121.5,933.7 L1122.0,933.1 L1122.5,932.6 L1123.0,932.3 L1123.5,932.4 L1124.0,932.8 L1124.5,933.5 L1125.0,934.4 L1125.5,935.5 L1126.0,936.7 L1126.5,938.0 L1127.0,939.6 L1127.5,941.6 L1128.0,944.1 L1128.5,946.9 L1129.0,949.8 L1129.5,952.8 L1130.0,955.5 L1130.5,958.3 L1131.0,961.2 L1131.5,964.2 L1132.0,967.2 L1132.5,970.2 L1133.0,973.3 L1133.5,976.4 L1134.0,979.4 L1134.5,982.4 L1135.0,985.5 L1135.5,988.7 L1136.0,991.8 L1136.5,994.9 L1137.0,998.0 L1137.5,1001.0 L1138.0,1003.9 L1138.5,1006.7 L1139.0,1009.6 L1139.5,1012.5 L1140.0,1015.3 L1140.5,1018.1 L1141.0,1020.7 L1141.5,1023.1 L1142.0,1025.2 L1142.5,1026.9 L1143.0,1028.6 L1143.5,1030.3 L1144.0,1031.9 L1144.5,1033.4 L1145.0,1034.7 L1145.5,1035.8 L1146.0,1036.5 L1146.5,1036.8 L1147.0,1036.7 L1147.5,1036.1 L1148.0,1035.2 L1148.5,1034.0 L1149.0,1032.5 L1149.5,1030.9 L1150.0,1029.1 L1150.5,1027.3 L1151.0,1025.4 L1151.5,1022.9 L1152.0,1019.9 L1152.5,1016.5 L1153.0,1012.9 L1153.5,1009.3 L1154.0,1005.7 L1154.5,1002.2 L1155.0,998.7 L1155.5,995.1 L1156.0,991.3 L1156.5,987.4 L1157.0,983.4 L1157.5,979.1 L1158.0,974.7 L1158.5,970.2 L1159.0,965.4 L1159.5,960.4 L1160.0,955.0 L1160.5,949.2 L1161.0,942.6 L1161.5,934.6 L1162.0,925.9 L1162.5,917.4 L1163.0,910.0 L1163.5,903.8 L1164.0,898.3 L1164.5,893.0 L1165.0,887.6 L1165.5,881.8 L1166.0,875.6 L1166.5,869.3 L1167.0,862.8 L1167.5,856.2 L1168.0,849.6 L1168.5,842.9 L1169.0,836.3 L1169.5,829.3 L1170.0,821.6 L1170.5,814.3 L1171.0,808.6 L1171.5,805.0 L1172.0,801.9 L1172.5,799.5 L1173.0,798.0 L1173.5,797.8 L1174.0,799.1 L1174.5,801.4 L1175.0,804.4 L1175.5,807.7 L1176.0,812.8 L1176.5,819.6 L1177.0,827.3 L1177.5,835.0 L1178.0,842.9 L1178.5,851.6 L1179.0,860.6 L1179.5,869.6 L1180.0,878.2 L1180.5,886.0 L1181.0,893.3 L1181.5,900.3 L1182.0,907.2 L1182.5,913.1 L1183.0,916.3 L1183.5,922.4 L1184.0,996.6 L1184.5,1014.6 L1185.0,1024.8 L1185.5,1030.1 L1186.0,1033.6 L1186.5,1038.3 L1187.0,1044.4 L1187.5,1050.0 L1188.0,1055.3 L1188.5,1060.2 L1189.0,1064.7 L1189.5,1068.7 L1190.0,1072.3 L1190.5,1075.6 L1191.0,1078.8 L1191.5,1081.8 L1192.0,1084.5 L1192.5,1087.1 L1193.0,1089.4 L1193.5,1091.4 L1194.0,1093.2 L1194.5,1094.7 L1195.0,1096.0 L1195.5,1097.2 L1196.0,1098.3 L1196.5,1099.3 L1197.0,1100.4 L1197.5,1101.5 L1198.0,1102.7 L1198.5,1104.0 L1199.0,1105.5 L1199.5,1107.1 L1200.0,1108.7 L1200.5,1110.4 L1201.0,1112.1 L1201.5,1113.7 L1202.0,1115.3 L1202.5,1116.9 L1203.0,1118.5 L1203.5,1120.1 L1204.0,1121.7 L1204.5,1123.3 L1205.0,1124.9 L1205.5,1126.4 L1206.0,1127.9 L1206.5,1129.3 L1207.0,1130.5 L1207.5,1131.7 L1208.0,1132.9 L1208.5,1134.2 L1209.0,1135.5 L1209.5,1136.6 L1210.0,1137.7 L1210.5,1138.5 L1211.0,1139.0 L1211.5,1139.2 L1212.0,1139.1 L1212.5,1138.7 L1213.0,1138.2 L1213.5,1137.4 L1214.0,1136.6 L1214.5,1135.7 L1215.0,1134.6 L1215.5,1133.6 L1216.0,1132.5 L1216.5,1130.8 L1217.0,1128.9 L1217.5,1126.8 L1218.0,1124.7 L1218.5,1122.9 L1219.0,1121.6 L1219.5,1120.6 L1220.0,1119.6 L1220.5,1118.6 L1221.0,1117.7 L1221.5,1117.0 L1222.0,1116.4 L1222.5,1115.9 L1223.0,1115.7 L1223.5,1115.7 L1224.0,1115.8 L1224.5,1115.9 L1225.0,1116.2 L1225.5,1116.4 L1226.0,1116.7 L1226.5,1117.0 L1227.0,1117.4 L1227.5,1117.7 L1228.0,1118.1 L1228.5,1118.5 L1229.0,1119.1 L1229.5,1119.6 L1230.0,1119.9 L1230.5,1119.9 L1231.0,1119.9 L1231.5,1119.9 L1232.0,1119.9 L1232.5,1119.9 L1233.0,1119.9 L1233.5,1119.9 L1234.0,1119.9 L1234.5,1119.9 L1235.0,1119.9 L1235.5,1120.0 L1236.0,1120.1 L1236.5,1120.4 L1237.0,1120.7 L1237.5,1121.0 L1238.0,1121.4 L1238.5,1121.8 L1239.0,1122.3 L1239.5,1123.0 L1240.0,1123.8 L1240.5,1124.7 L1241.0,1125.5 L1241.5,1126.3 L1242.0,1126.9 L1242.5,1127.4 L1243.0,1127.8 L1243.5,1128.1 L1244.0,1128.5 L1244.5,1128.8 L1245.0,1129.1 L1245.5,1129.4 L1246.0,1129.6 L1246.5,1129.8 L1247.0,1129.9 L1247.5,1129.9 L1248.0,1129.9 L1248.5,1129.9 L1249.0,1129.8 L1249.5,1129.7 L1250.0,1129.6 L1250.5,1129.5 L1251.0,1129.3 L1251.5,1129.2 L1252.0,1128.9 L1252.5,1128.3 L1253.0,1127.5 L1253.5,1126.5 L1254.0,1125.3 L1254.5,1124.2 L1255.0,1123.2 L1255.5,1122.2 L1256.0,1121.3 L1256.5,1120.3 L1257.0,1119.3 L1257.5,1118.2 L1258.0,1117.2 L1258.5,1116.2 L1259.0,1115.1 L1259.5,1114.0 L1260.0,1112.7 L1260.5,1111.4 L1261.0,1110.1 L1261.5,1108.9 L1262.0,1108.0 L1262.5,1107.4 L1263.0,1107.0 L1263.5,1106.6 L1264.0,1106.3 L1264.5,1106.0 L1265.0,1105.8 L1265.5,1105.7 L1266.0,1105.7 L1266.5,1105.8 L1267.0,1105.9 L1267.5,1106.2 L1268.0,1106.4 L1268.5,1106.7 L1269.0,1106.9 L1269.5,1107.1 L1270.0,1107.3 L1270.5,1107.4 L1271.0,1107.4 L1271.5,1107.4 L1272.0,1107.4 L1272.5,1107.4 L1273.0,1107.4 L1273.5,1107.4 L1274.0,1107.4 L1274.5,1107.4 L1275.0,1107.4 L1275.5,1107.0 L1276.0,1106.1 L1276.5,1104.8 L1277.0,1103.2 L1277.5,1101.6 L1278.0,1099.7 L1278.5,1097.3 L1279.0,1094.7 L1279.5,1092.1 L1280.0,1089.9 L1280.5,1087.9 L1281.0,1086.0 L1281.5,1084.2 L1282.0,1082.7 L1282.5,1081.6 L1283.0,1080.8 L1283.5,1080.1 L1284.0,1079.5 L1284.5,1079.0 L1285.0,1078.5 L1285.5,1078.1 L1286.0,1077.7 L1286.5,1077.3 L1287.0,1076.9 L1287.5,1076.6 L1288.0,1076.3 L1288.5,1076.0 L1289.0,1075.8 L1289.5,1075.6 L1290.0,1075.4 L1290.5,1075.1 L1291.0,1074.9 L1291.5,1074.7 L1292.0,1074.4 L1292.5,1074.1 L1293.0,1073.7 L1293.5,1073.4 L1294.0,1073.0 L1294.5,1072.5 L1295.0,1072.0 L1295.5,1071.4 L1296.0,1070.8 L1296.5,1070.1 L1297.0,1069.1 L1297.5,1067.8 L1298.0,1066.2 L1298.5,1064.4 L1299.0,1062.7 L1299.5,1061.2 L1300.0,1059.9 L1300.5,1058.9 L1301.0,1058.0 L1301.5,1057.2 L1302.0,1056.4 L1302.5,1055.7 L1303.0,1055.0 L1303.5,1054.2 L1304.0,1053.5 L1304.5,1052.7 L1305.0,1051.9 L1305.5,1051.2 L1306.0,1050.5 L1306.5,1049.8 L1307.0,1049.0 L1307.5,1048.1 L1308.0,1047.2 L1308.5,1046.2 L1309.0,1045.0 L1309.5,1043.7 L1310.0,1042.3 L1310.5,1040.7 L1311.0,1038.9 L1311.5,1037.0 L1312.0,1034.8 L1312.5,1032.2 L1313.0,1029.2 L1313.5,1025.9 L1314.0,1022.3 L1314.5,1018.4 L1315.0,1013.8 L1315.5,1008.8 L1316.0,1003.4 L1316.5,997.7 L1317.0,992.0 L1317.5,986.2 L1318.0,979.9 L1318.5,973.0 L1319.0,965.0 L1319.5,954.2 L1320.0,940.6 L1320.5,930.0 L1321.0,923.5 L1321.5,917.9 L1322.0,913.0 L1322.5,908.7 L1323.0,904.8 L1323.5,901.3 L1324.0,898.1 L1324.5,895.0 L1325.0,891.9 L1325.5,888.6 L1326.0,885.5 L1326.5,882.5 L1327.0,879.7 L1327.5,877.4 L1328.0,875.6 L1328.5,874.4 L1329.0,874.0 L1329.5,874.3 L1330.0,875.3 L1330.5,876.8 L1331.0,878.9 L1331.5,881.4 L1332.0,884.3 L1332.5,887.6 L1333.0,891.2 L1333.5,895.0 L1334.0,900.6 L1334.5,909.0 L1335.0,919.4 L1335.5,930.7 L1336.0,942.3 L1336.5,953.0 L1337.0,963.1 L1337.5,973.4 L1338.0,983.1 L1338.5,991.5 L1339.0,998.9 L1339.5,1005.7 L1340.0,1012.1 L1340.5,1018.1 L1341.0,1023.9 L1341.5,1029.6 L1342.0,1035.1 L1342.5,1040.2 L1343.0,1044.5 L1343.5,1047.9 L1344.0,1051.0 L1344.5,1053.8 L1345.0,1056.1 L1345.5,1057.7 L1346.0,1058.6 L1346.5,1059.2 L1347.0,1059.7 L1347.5,1060.1 L1348.0,1060.5 L1348.5,1060.7 L1349.0,1060.8 L1349.5,1060.8 L1350.0,1060.7 L1350.5,1060.6 L1351.0,1060.5 L1351.5,1060.4 L1352.0,1060.2 L1352.5,1060.1 L1353.0,1060.0 L1353.5,1059.9 L1354.0,1059.9 L1354.5,1059.9 L1355.0,1060.1 L1355.5,1060.4 L1356.0,1060.7 L1356.5,1061.2 L1357.0,1061.7 L1357.5,1062.3 L1358.0,1062.9 L1358.5,1063.6 L1359.0,1064.7 L1359.5,1066.2 L1360.0,1068.1 L1360.5,1070.1 L1361.0,1072.3 L1361.5,1074.5 L1362.0,1076.7 L1362.5,1079.4 L1363.0,1082.2 L1363.5,1085.2 L1364.0,1088.1 L1364.5,1091.0 L1365.0,1093.7 L1365.5,1096.3 L1366.0,1098.8 L1366.5,1101.3 L1367.0,1103.7 L1367.5,1106.1 L1368.0,1108.5 L1368.5,1110.9 L1369.0,1113.3 L1369.5,1115.7 L1370.0,1118.2 L1370.5,1120.5 L1371.0,1122.6 L1371.5,1124.6 L1372.0,1126.3 L1372.5,1127.9 L1373.0,1129.5 L1373.5,1131.0 L1374.0,1132.3 L1374.5,1133.3 L1375.0,1134.1 L1375.5,1134.9 L1376.0,1135.5 L1376.5,1136.1 L1377.0,1136.4 L1377.5,1136.5 L1378.0,1136.3 L1378.5,1135.9 L1379.0,1135.3 L1379.5,1134.6 L1380.0,1133.7 L1380.5,1132.8 L1381.0,1131.7 L1381.5,1130.3 L1382.0,1128.4 L1382.5,1126.2 L1383.0,1123.8 L1383.5,1121.3 L1384.0,1118.7 L1384.5,1116.0 L1385.0,1113.0 L1385.5,1109.7 L1386.0,1106.3 L1386.5,1102.8 L1387.0,1099.3 L1387.5,1095.9 L1388.0,1092.5 L1388.5,1089.0 L1389.0,1085.4 L1389.5,1082.0 L1390.0,1078.8 L1390.5,1075.9 L1391.0,1073.4 L1391.5,1071.0 L1392.0,1068.6 L1392.5,1066.4 L1393.0,1064.5 L1393.5,1062.9 L1394.0,1061.8 L1394.5,1061.0 L1395.0,1060.2 L1395.5,1059.6 L1396.0,1059.2 L1396.5,1059.0 L1397.0,1059.1 L1397.5,1059.4 L1398.0,1059.9 L1398.5,1060.6 L1399.0,1061.4 L1399.5,1062.7 L1400.0,1064.9 L1400.5,1067.8 L1401.0,1071.0 L1401.5,1074.3 L1402.0,1077.6 L1402.5,1081.3 L1403.0,1085.2 L1403.5,1089.1 L1404.0,1092.6 L1404.5,1095.7 L1405.0,1098.9 L1405.5,1101.9 L1406.0,1104.4 L1406.5,1106.3 L1407.0,1107.6 L1407.5,1108.8 L1408.0,1109.8 L1408.5,1110.6 L1409.0,1110.9 L1409.5,1110.7 L1410.0,1110.2 L1410.5,1109.3 L1411.0,1108.1 L1411.5,1106.9 L1412.0,1105.3 L1412.5,1103.2 L1413.0,1100.5 L1413.5,1097.4 L1414.0,1094.2 L1414.5,1090.8 L1415.0,1087.5 L1415.5,1084.0 L1416.0,1080.2 L1416.5,1076.2 L1417.0,1072.2 L1417.5,1068.3 L1418.0,1064.7 L1418.5,1061.3 L1419.0,1057.9 L1419.5,1054.6 L1420.0,1051.4 L1420.5,1048.5 L1421.0,1045.8 L1421.5,1043.7 L1422.0,1041.8 L1422.5,1040.1 L1423.0,1038.5 L1423.5,1037.3 L1424.0,1036.7 L1424.5,1036.4 L1425.0,1036.3 L1425.5,1036.1 L1426.0,1036.0 L1426.5,1036.0 L1427.0,1036.1 L1427.5,1036.3 L1428.0,1036.8 L1428.5,1037.4 L1429.0,1038.1 L1429.5,1039.5 L1430.0,1042.2 L1430.5,1045.7 L1431.0,1049.6 L1431.5,1053.3 L1432.0,1056.9 L1432.5,1060.7 L1433.0,1064.7 L1433.5,1068.7 L1434.0,1072.8 L1434.5,1076.8 L1435.0,1080.7 L1435.5,1084.6 L1436.0,1088.7 L1436.5,1092.7 L1437.0,1096.6 L1437.5,1100.3 L1438.0,1103.7 L1438.5,1106.7 L1439.0,1109.7 L1439.5,1112.5 L1440.0,1115.2 L1440.5,1117.6 L1441.0,1119.8 L1441.5,1121.6 L1442.0,1123.2 L1442.5,1124.8 L1443.0,1126.3 L1443.5,1127.6 L1444.0,1128.6 L1444.5,1129.5 L1445.0,1130.0 L1445.5,1130.4 L1446.0,1130.7 L1446.5,1131.1 L1447.0,1131.4 L1447.5,1131.6 L1448.0,1131.8 L1448.5,1131.9 L1449.0,1131.9 L1449.5,1131.8 L1450.0,1131.6 L1450.5,1131.3 L1451.0,1130.9 L1451.5,1130.4 L1452.0,1129.9 L1452.5,1129.2 L1453.0,1128.5 L1453.5,1127.6 L1454.0,1126.2 L1454.5,1124.2 L1455.0,1121.9 L1455.5,1119.2 L1456.0,1116.3 L1456.5,1113.2 L1457.0,1109.7 L1457.5,1105.5 L1458.0,1100.7 L1458.5,1095.4 L1459.0,1089.9 L1459.5,1084.4 L1460.0,1078.8 L1460.5,1073.0 L1461.0,1066.8 L1461.5,1060.4 L1462.0,1053.9 L1462.5,1047.3 L1463.0,1040.8 L1463.5,1034.5 L1464.0,1028.2 L1464.5,1021.8 L1465.0,1015.5 L1465.5,1009.2 L1466.0,1002.9 L1466.5,996.6 L1467.0,990.3 L1467.5,983.9 L1468.0,977.5 L1468.5,971.3 L1469.0,965.4 L1469.5,959.8 L1470.0,954.2 L1470.5,949.1 L1471.0,945.0 L1471.5,941.5 L1472.0,938.1 L1472.5,935.0 L1473.0,932.3 L1473.5,930.4 L1474.0,929.4 L1474.5,929.5 L1475.0,930.7 L1475.5,932.8 L1476.0,935.5 L1476.5,938.7 L1477.0,942.2 L1477.5,945.7 L1478.0,950.2 L1478.5,955.7 L1479.0,962.0 L1479.5,969.3 L1480.0,977.9 L1480.5,987.2 L1481.0,996.6 L1481.5,1006.4 L1482.0,1017.0 L1482.5,1027.7 L1483.0,1037.8 L1483.5,1046.6 L1484.0,1054.3 L1484.5,1061.3 L1485.0,1067.9 L1485.5,1074.1 L1486.0,1079.9 L1486.5,1085.5 L1487.0,1090.9 L1487.5,1096.0 L1488.0,1100.7 L1488.5,1104.9 L1489.0,1108.8 L1489.5,1112.3 L1490.0,1115.7 L1490.5,1118.8 L1491.0,1121.6 L1491.5,1124.3 L1492.0,1126.9 L1492.5,1129.4 L1493.0,1131.5 L1493.5,1133.2 L1494.0,1134.7 L1494.5,1136.2 L1495.0,1137.5 L1495.5,1138.7 L1496.0,1139.6 L1496.5,1140.1 L1497.0,1140.2 L1497.5,1140.1 L1498.0,1140.1 L1498.5,1139.9 L1499.0,1139.8 L1499.5,1139.6 L1500.0,1139.4 L1500.5,1139.2 L1501.0,1139.0 L1501.5,1138.7 L1502.0,1138.3 L1502.5,1137.9 L1503.0,1137.5 L1503.5,1137.0 L1504.0,1136.6 L1504.5,1136.2 L1505.0,1135.9 L1505.5,1135.7 L1506.0,1135.7 L1506.5,1135.7 L1507.0,1135.8 L1507.5,1135.8 L1508.0,1135.9 L1508.5,1136.0 L1509.0,1136.0 L1509.5,1136.1 L1510.0,1136.2 L1510.5,1136.2 L1511.0,1136.2 L1511.5,1136.2 L1512.0,1136.1 L1512.5,1136.1 L1513.0,1136.0 L1513.5,1135.9 L1514.0,1135.9 L1514.5,1135.8 L1515.0,1135.7 L1515.5,1135.7 L1516.0,1135.7 L1516.5,1135.9 L1517.0,1136.4 L1517.5,1137.0 L1518.0,1137.6 L1518.5,1138.3 L1519.0,1138.8 L1519.5,1139.1 L1520.0,1139.4 L1520.5,1139.7 L1521.0,1140.0 L1521.5,1140.2 L1522.0,1140.4 L1522.5,1140.6 L1523.0,1140.7 L1523.5,1140.7 L1524.0,1140.6 L1524.5,1140.5 L1525.0,1140.2 L1525.5,1139.9 L1526.0,1139.5 L1526.5,1139.1 L1527.0,1138.7 L1527.5,1138.3 L1528.0,1137.8 L1528.5,1137.1 L1529.0,1136.3 L1529.5,1135.4 L1530.0,1134.5 L1530.5,1133.6 L1531.0,1132.7 L1531.5,1131.9 L1532.0,1131.2 L1532.5,1130.6 L1533.0,1129.9 L1533.5,1129.2 L1534.0,1128.5 L1534.5,1128.0 L1535.0,1127.5 L1535.5,1127.3 L1536.0,1127.2 L1536.5,1127.4 L1537.0,1127.7 L1537.5,1128.2 L1538.0,1128.8 L1538.5,1129.5 L1539.0,1130.2 L1539.5,1130.8 L1540.0,1131.4 L1540.5,1131.9 L1541.0,1132.6 L1541.5,1133.2 L1542.0,1133.9 L1542.5,1134.5 L1543.0,1135.0 L1543.5,1135.4 L1544.0,1135.7 L1544.5,1135.7 L1545.0,1135.7 L1545.5,1135.6 L1546.0,1135.6 L1546.5,1135.5 L1547.0,1135.4 L1547.5,1135.3 L1548.0,1135.2 L1548.5,1135.1 L1549.0,1135.0 L1549.5,1134.8 L1550.0,1134.4 L1550.5,1133.8 L1551.0,1133.1 L1551.5,1132.3 L1552.0,1131.6 L1552.5,1131.0 L1553.0,1130.6 L1553.5,1130.5 L1554.0,1130.7 L1554.5,1131.1 L1555.0,1131.7 L1555.5,1132.5 L1556.0,1133.3 L1556.5,1134.1 L1557.0,1134.9 L1557.5,1135.6 L1558.0,1136.2 L1558.5,1137.0 L1559.0,1137.7 L1559.5,1138.5 L1560.0,1139.2 L1560.5,1139.8 L1561.0,1140.2 L1561.5,1140.5 L1562.0,1140.4 L1562.5,1140.1 L1563.0,1139.6 L1563.5,1138.9 L1564.0,1138.2 L1564.5,1137.4 L1565.0,1136.7 L1565.5,1136.1 L1566.0,1135.6 L1566.5,1135.2 L1567.0,1134.8 L1567.5,1134.5 L1568.0,1134.1 L1568.5,1133.8 L1569.0,1133.5 L1569.5,1133.2 L1570.0,1133.0 L1570.5,1132.9 L1571.0,1132.9 L1571.5,1132.9 L1572.0,1132.9 L1572.5,1133.0 L1573.0,1133.0 L1573.5,1133.1 L1574.0,1133.1 L1574.5,1133.1 L1575.0,1133.2 L1575.5,1133.2 L1576.0,1133.2 L1576.5,1133.2 L1577.0,1133.1 L1577.5,1133.0 L1578.0,1132.9 L1578.5,1132.8 L1579.0,1132.7 L1579.5,1132.6 L1580.0,1132.5 L1580.5,1132.4 L1581.0,1132.4 L1581.5,1132.5 L1582.0,1132.8 L1582.5,1133.1 L1583.0,1133.6 L1583.5,1134.1 L1584.0,1134.6 L1584.5,1135.1 L1585.0,1135.6 L1585.5,1136.1 L1586.0,1136.8 L1586.5,1137.6 L1587.0,1138.4 L1587.5,1139.0 L1588.0,1139.4 L1588.5,1139.5 L1589.0,1139.5 L1589.5,1139.4 L1590.0,1139.2 L1590.5,1139.1 L1591.0,1138.9 L1591.5,1138.7 L1592.0,1138.5 L1592.5,1138.2 L1593.0,1138.0 L1593.5,1137.7 L1594.0,1137.4 L1594.5,1137.0 L1595.0,1136.6 L1595.5,1136.2 L1596.0,1135.8 L1596.5,1135.5 L1597.0,1135.2 L1597.5,1134.9 L1598.0,1134.8 L1598.5,1134.6 L1599.0,1134.5 L1599.5,1134.3 L1600.0,1134.2 L1600.5,1134.1 L1601.0,1134.0 L1601.5,1133.8 L1602.0,1133.7 L1602.5,1133.5 L1603.0,1133.3 L1603.5,1133.1 L1604.0,1132.8 L1604.5,1132.5 L1605.0,1132.2 L1605.5,1131.9 L1606.0,1131.6 L1606.5,1131.3 L1607.0,1131.0 L1607.5,1130.7 L1608.0,1130.5 L1608.5,1130.3 L1609.0,1130.0 L1609.5,1129.8 L1610.0,1129.5 L1610.5,1129.3 L1611.0,1129.0 L1611.5,1128.8 L1612.0,1128.6 L1612.5,1128.5 L1613.0,1128.3 L1613.5,1128.2 L1614.0,1128.2 L1614.5,1128.2 L1615.0,1128.3 L1615.5,1128.4 L1616.0,1128.5 L1616.5,1128.7 L1617.0,1128.8 L1617.5,1129.0 L1618.0,1129.2 L1618.5,1129.4 L1619.0,1129.6 L1619.5,1129.7 L1620.0,1129.8 L1620.5,1129.9 L1621.0,1129.9 L1621.5,1129.9 L1622.0,1129.9 L1622.5,1129.9 L1623.0,1129.9 L1623.5,1129.9 L1624.0,1129.9 L1624.5,1129.9 L1625.0,1129.9 L1625.5,1129.9 L1626.0,1129.9 L1626.5,1129.9 L1627.0,1129.9 L1627.5,1129.9 L1628.0,1129.9 L1628.5,1130.0 L1629.0,1130.0 L1629.5,1130.1 L1630.0,1130.2 L1630.5,1130.3 L1631.0,1130.4 L1631.5,1130.5 L1632.0,1130.6 L1632.5,1130.6 L1633.0,1130.7 L1633.5,1130.7 L1634.0,1130.7 L1634.5,1130.7 L1635.0,1130.7"/>
  </g>
  <!-- legend -->
  <g fill="none" stroke-width="8.6" stroke-linecap="butt">
    <line x1="227" y1="142.2" x2="371.5" y2="142.2" stroke="#ff0000"/>
    <line x1="227" y1="233.5" x2="371.5" y2="233.5" stroke="#0000ff"/>
  </g>
  <text class="leg" transform="translate(382.3,162.9) scale(1,1.03)" x="0" y="0">SiO<tspan font-size="43" dy="15.5">2</tspan><tspan dy="-15.5">@Au</tspan></text>
  <text class="leg" transform="translate(382,254.4) scale(1,1.03)" x="0" y="0">Au-SiO<tspan font-size="43" dy="15.5">2</tspan></text>
  <!-- tick labels -->
  <g class="tick">
    <text transform="translate(172,1293.2) scale(1,1.05)" x="0" y="0">400</text>
    <text transform="translate(380.6,1293.2) scale(1,1.05)" x="0" y="0">600</text>
    <text transform="translate(589.1,1293.2) scale(1,1.05)" x="0" y="0">800</text>
    <text transform="translate(797.7,1293.2) scale(1,1.05)" x="0" y="0">1000</text>
    <text transform="translate(1006.3,1293.2) scale(1,1.05)" x="0" y="0">1200</text>
    <text transform="translate(1214.9,1293.2) scale(1,1.05)" x="0" y="0">1400</text>
    <text transform="translate(1423.4,1293.2) scale(1,1.05)" x="0" y="0">1600</text>
    <text transform="translate(1632,1293.2) scale(1,1.05)" x="0" y="0">1800</text>
  </g>
  <!-- axis titles -->
  <text class="axis" transform="translate(901.5,1393.8) scale(1,1.03)" x="0" y="0">Raman Shift (cm<tspan font-size="50" dy="-29">−1</tspan><tspan dy="29">)</tspan></text>
  <text class="yaxis" transform="translate(118.4,626) rotate(-90) scale(1,1.025)" x="0" y="0">Raman Intensity (a.u.)</text>
</svg>
</body>
</html>
